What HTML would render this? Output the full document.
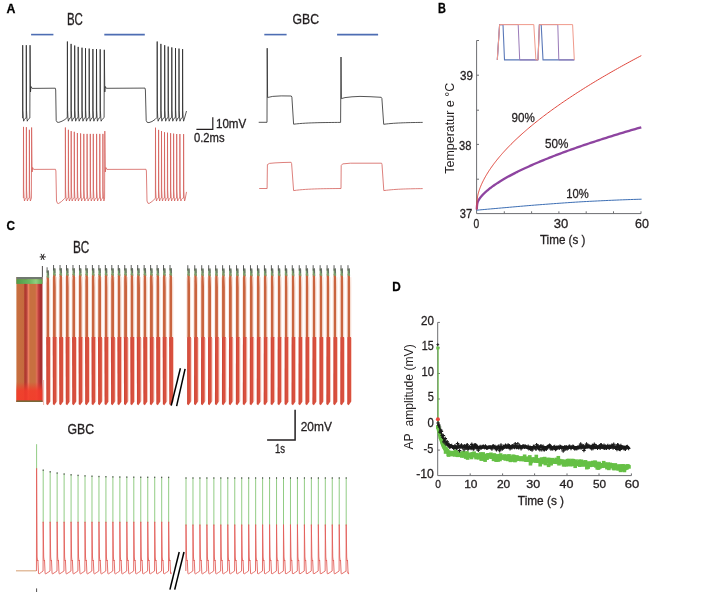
<!DOCTYPE html>
<html><head><meta charset="utf-8"><style>
html,body{margin:0;padding:0;background:#fff;width:708px;height:592px;overflow:hidden}
svg{display:block;will-change:transform}
text{font-family:"Liberation Sans",sans-serif}
</style></head><body>
<svg width="708" height="592" viewBox="0 0 708 592">
<rect width="708" height="592" fill="#fff"/>
<text x="6.45" y="12.65" font-size="13.07" font-weight="bold" fill="#000" stroke="#000" stroke-width="0.3" textLength="8.9" lengthAdjust="spacingAndGlyphs">A</text>
<text x="66.95" y="24.85" font-size="15.83" font-weight="normal" fill="#231f20" stroke="#231f20" stroke-width="0.3" textLength="16" lengthAdjust="spacingAndGlyphs">BC</text>
<text x="292.55" y="24.25" font-size="15.11" font-weight="normal" fill="#231f20" stroke="#231f20" stroke-width="0.3" textLength="26.5" lengthAdjust="spacingAndGlyphs">GBC</text>
<line x1="31.1" y1="34.6" x2="53.4" y2="34.6" stroke="#4d6db3" stroke-width="1.6"/>
<line x1="104.3" y1="34.6" x2="144.8" y2="34.6" stroke="#4d6db3" stroke-width="1.6"/>
<line x1="264.3" y1="34.6" x2="286.6" y2="34.6" stroke="#4d6db3" stroke-width="1.6"/>
<line x1="337.1" y1="34.6" x2="378.1" y2="34.6" stroke="#4d6db3" stroke-width="1.6"/>
<path d="M22.2,118 L22.58,118 L22.7,45.2 L22.9,110.2 L23.25,117.2 L23.65,121.2 L24.15,119.9 L25.17,118.4 L26.18,118 L26.3,45.2 L26.5,110.2 L26.85,117.2 L27.25,121.2 L27.75,119.9 L29.85,118 L30.05,45.2 L30.5,92 L31,86.5 L32.1,88.4 L55.3,88.2 L55.7,90 L56.2,120.5 L57.2,122.2 L58.8,122.4 L62,121.2 L65,119.5 L67,117.6 L67.28,117.6 L67.4,41.5 L67.6,110.2 L67.95,117.2 L68.35,121.2 L68.85,119.9 L69.91,118 L70.98,117.6 L71.1,43.9 L71.3,110.2 L71.65,117.2 L72.05,121.2 L72.55,119.9 L73.56,118 L74.58,117.6 L74.7,45.5 L74.9,110.2 L75.25,117.2 L75.65,121.2 L76.15,119.9 L77.12,118 L78.08,117.6 L78.2,46.9 L78.4,110.2 L78.75,117.2 L79.15,121.2 L79.65,119.9 L80.77,118 L81.88,117.6 L82,47.7 L82.2,110.2 L82.55,117.2 L82.95,121.2 L83.45,119.9 L84.41,118 L85.38,117.6 L85.5,48.2 L85.7,110.2 L86.05,117.2 L86.45,121.2 L86.95,119.9 L88.02,118 L89.08,117.6 L89.2,48.6 L89.4,110.2 L89.75,117.2 L90.15,121.2 L90.65,119.9 L91.72,118 L92.78,117.6 L92.9,49 L93.1,110.2 L93.45,117.2 L93.85,121.2 L94.35,119.9 L95.37,118 L96.38,117.6 L96.5,49 L96.7,110.2 L97.05,117.2 L97.45,121.2 L97.95,119.9 L99.02,118 L100.08,117.6 L100.2,49.3 L100.4,110.2 L100.75,117.2 L101.15,121.2 L101.65,119.9 L104.1,117.6 L104.3,49.8 L104.8,92 L105.3,86.5 L106.3,88.3 L145,88.1 L145.4,90 L146.2,120.5 L147.2,122.4 L149,122.6 L152,121.5 L155,119.5 L156.9,117.6 L157.08,117.6 L157.2,41.5 L157.4,110.2 L157.75,117.2 L158.15,121.2 L158.65,119.9 L159.71,118 L160.78,117.6 L160.9,43.9 L161.1,110.2 L161.45,117.2 L161.85,121.2 L162.35,119.9 L163.46,118 L164.58,117.6 L164.7,45.2 L164.9,110.2 L165.25,117.2 L165.65,121.2 L166.15,119.9 L167.11,118 L168.08,117.6 L168.2,46.6 L168.4,110.2 L168.75,117.2 L169.15,121.2 L169.65,119.9 L170.66,118 L171.68,117.6 L171.8,47.4 L172,110.2 L172.35,117.2 L172.75,121.2 L173.25,119.9 L174.31,118 L175.38,117.6 L175.5,48.1 L175.7,110.2 L176.05,117.2 L176.45,121.2 L176.95,119.9 L177.91,118 L178.88,117.6 L179,48.6 L179.2,110.2 L179.55,117.2 L179.95,121.2 L180.45,119.9 L181.46,118 L182.48,117.6 L182.6,49.1 L182.8,110.2 L183.15,117.2 L183.55,121.2 L184.05,119.9 L186.5,111" fill="none" stroke="#2a2a2a" stroke-width="0.8" stroke-linejoin="round" />
<path d="M23.1,198 L23.38,198 L23.5,126.9 L23.7,190 L24.05,197 L24.45,201 L24.95,199.7 L25.61,198.4 L26.28,198 L26.4,127.2 L26.6,190 L26.95,197 L27.35,201 L27.85,199.7 L28.57,198.4 L29.28,198 L29.4,129.8 L29.6,190 L29.95,197 L30.35,201 L30.85,199.7 L31.4,198 L31.6,127.5 L32.1,172 L32.6,167.5 L33.6,169.4 L55.5,169.3 L55.9,171 L56.5,201 L57.5,203.3 L58.6,203.5 L61.5,201.5 L64.6,198.5 L65.28,198 L65.4,127.5 L65.6,190 L65.95,197 L66.35,201 L66.85,199.7 L67.56,198.4 L68.28,198 L68.4,129.8 L68.6,190 L68.95,197 L69.35,201 L69.85,199.7 L70.47,198.4 L71.08,198 L71.2,131.1 L71.4,190 L71.75,197 L72.15,201 L72.65,199.7 L73.41,198.4 L74.18,198 L74.3,131.8 L74.5,190 L74.85,197 L75.25,201 L75.75,199.7 L76.52,198.4 L77.28,198 L77.4,133 L77.6,190 L77.95,197 L78.35,201 L78.85,199.7 L79.66,198.4 L80.48,198 L80.6,133.4 L80.8,190 L81.15,197 L81.55,201 L82.05,199.7 L82.86,198.4 L83.68,198 L83.8,133.9 L84,190 L84.35,197 L84.75,201 L85.25,199.7 L86.11,198.4 L86.98,198 L87.1,133.9 L87.3,190 L87.65,197 L88.05,201 L88.55,199.7 L89.36,198.4 L90.18,198 L90.3,133.9 L90.5,190 L90.85,197 L91.25,201 L91.75,199.7 L92.47,198.4 L93.18,198 L93.3,133.9 L93.5,190 L93.85,197 L94.25,201 L94.75,199.7 L95.61,198.4 L96.48,198 L96.6,133.9 L96.8,190 L97.15,197 L97.55,201 L98.05,199.7 L98.86,198.4 L99.68,198 L99.8,133.9 L100,190 L100.35,197 L100.75,201 L101.25,199.7 L102.02,198.4 L102.78,198 L102.9,133.9 L103.1,190 L103.45,197 L103.85,201 L104.35,199.7 L104.6,198 L104.8,131.1 L105.3,172 L105.9,167.5 L106.9,169.4 L146,169.3 L146.4,171 L147,201 L148,203.3 L149.2,203.4 L152,201.5 L155.2,198.5 L155.38,198 L155.5,127.7 L155.7,190 L156.05,197 L156.45,201 L156.95,199.7 L157.71,198.4 L158.48,198 L158.6,129.9 L158.8,190 L159.15,197 L159.55,201 L160.05,199.7 L160.71,198.4 L161.38,198 L161.5,131 L161.7,190 L162.05,197 L162.45,201 L162.95,199.7 L163.66,198.4 L164.38,198 L164.5,132.2 L164.7,190 L165.05,197 L165.45,201 L165.95,199.7 L166.66,198.4 L167.38,198 L167.5,132.7 L167.7,190 L168.05,197 L168.45,201 L168.95,199.7 L169.71,198.4 L170.48,198 L170.6,133.2 L170.8,190 L171.15,197 L171.55,201 L172.05,199.7 L172.76,198.4 L173.48,198 L173.6,133.6 L173.8,190 L174.15,197 L174.55,201 L175.05,199.7 L175.81,198.4 L176.58,198 L176.7,134 L176.9,190 L177.25,197 L177.65,201 L178.15,199.7 L178.96,198.4 L179.78,198 L179.9,134 L180.1,190 L180.45,197 L180.85,201 L181.35,199.7 L182.41,198.4 L183.48,198 L183.6,134.1 L183.8,190 L184.15,197 L184.55,201 L185.05,199.7 L186.5,191.9" fill="none" stroke="#d4605a" stroke-width="0.8" stroke-linejoin="round" />
<path d="M196.4,129.4 L212.8,129.4 L212.8,117.3" fill="none" stroke="#231f20" stroke-width="1.2"/>
<text x="215.95" y="127.75" font-size="11.91" font-weight="normal" fill="#231f20" stroke="#231f20" stroke-width="0.3" textLength="30.3" lengthAdjust="spacingAndGlyphs">10mV</text>
<text x="193.95" y="142.35" font-size="12.2" font-weight="normal" fill="#231f20" stroke="#231f20" stroke-width="0.3" textLength="30.6" lengthAdjust="spacingAndGlyphs">0.2ms</text>
<path d="M258.7,122.3 L267,122.3 L267.2,48.2 L267.6,97.5 L272.7,96.4 L281.2,95.9 L291.3,96 L291.9,97.2 L293.6,124.2 L296.54,123.87 L299.48,123.59 L302.41,123.36 L305.35,123.18 L308.29,123.02 L311.23,122.9 L314.16,122.8 L317.1,122.71 L320.04,122.64 L322.98,122.58 L325.91,122.54 L328.85,122.5 L331.79,122.47 L334.73,122.44 L337.66,122.42 L340.6,122.4 L341,57 L341.4,98.6 L345,97.6 L352,96.8 L360,96.4 L370,96.7 L381.2,97.3 L381.9,98.5 L383.7,124.3 L386.14,123.99 L388.57,123.73 L391.01,123.51 L393.45,123.32 L395.89,123.16 L398.32,123.02 L400.76,122.91 L403.2,122.81 L405.64,122.72 L408.07,122.65 L410.51,122.59 L412.95,122.54 L415.39,122.5 L417.82,122.46 L420.26,122.43 L422.7,122.4" fill="none" stroke="#2a2a2a" stroke-width="0.8" stroke-linejoin="round" />
<path d="M259.2,188.5 L267.1,188.5 L267.4,164.6 L269.5,163.4 L275,162.9 L283,162.5 L291.1,162.3 L291.6,163.5 L293.6,190.6 L296.56,190.21 L299.53,189.88 L302.49,189.62 L305.45,189.4 L308.41,189.22 L311.38,189.08 L314.34,188.96 L317.3,188.86 L320.26,188.78 L323.23,188.71 L326.19,188.66 L329.15,188.61 L332.11,188.58 L335.07,188.55 L338.04,188.52 L341,188.5 L341.2,165.6 L342.6,163.9 L350.3,163.2 L381.6,163.2 L382,164.5 L383.8,190.6 L386.32,190.28 L388.75,190 L391.17,189.77 L393.6,189.57 L396.02,189.4 L398.45,189.26 L400.88,189.13 L403.3,189.03 L405.72,188.94 L408.15,188.87 L410.57,188.8 L413,188.75 L415.43,188.7 L417.85,188.66 L420.27,188.63 L422.7,188.6" fill="none" stroke="#d4605a" stroke-width="0.8" stroke-linejoin="round" />
<text x="438.05" y="12.75" font-size="14.09" font-weight="bold" fill="#000" stroke="#000" stroke-width="0.3" textLength="7.9" lengthAdjust="spacingAndGlyphs">B</text>
<path d="M479,40.5 L476.6,40.5 L476.6,213.6 L641,213.6 L641,211.3" fill="none" stroke="#6d6e71" stroke-width="1"/>
<line x1="476.6" y1="75.2" x2="479" y2="75.2" stroke="#6d6e71" stroke-width="1"/>
<line x1="476.6" y1="110.2" x2="479" y2="110.2" stroke="#6d6e71" stroke-width="1"/>
<line x1="476.6" y1="144.4" x2="479" y2="144.4" stroke="#6d6e71" stroke-width="1"/>
<line x1="476.6" y1="179.2" x2="479" y2="179.2" stroke="#6d6e71" stroke-width="1"/>
<line x1="504.3" y1="213.5" x2="504.3" y2="211.3" stroke="#6d6e71" stroke-width="1"/>
<line x1="531.6" y1="213.5" x2="531.6" y2="211.3" stroke="#6d6e71" stroke-width="1"/>
<line x1="558.9" y1="213.5" x2="558.9" y2="211.3" stroke="#6d6e71" stroke-width="1"/>
<line x1="586.2" y1="213.5" x2="586.2" y2="211.3" stroke="#6d6e71" stroke-width="1"/>
<line x1="613.5" y1="213.5" x2="613.5" y2="211.3" stroke="#6d6e71" stroke-width="1"/>
<text x="459.95" y="80.45" font-size="12.93" font-weight="normal" fill="#231f20" stroke="#231f20" stroke-width="0.3" textLength="12.9" lengthAdjust="spacingAndGlyphs">39</text>
<text x="458.95" y="149.65" font-size="13.36" font-weight="normal" fill="#231f20" stroke="#231f20" stroke-width="0.3" textLength="12.4" lengthAdjust="spacingAndGlyphs">38</text>
<text x="459.85" y="217.75" font-size="12.64" font-weight="normal" fill="#231f20" stroke="#231f20" stroke-width="0.3" textLength="12.4" lengthAdjust="spacingAndGlyphs">37</text>
<text x="473.55" y="227.65" font-size="12.35" font-weight="normal" fill="#231f20" stroke="#231f20" stroke-width="0.3" textLength="5.7" lengthAdjust="spacingAndGlyphs">0</text>
<text x="553.65" y="227.95" font-size="12.93" font-weight="normal" fill="#231f20" stroke="#231f20" stroke-width="0.3" textLength="14.5" lengthAdjust="spacingAndGlyphs">30</text>
<text x="634.95" y="227.95" font-size="12.93" font-weight="normal" fill="#231f20" stroke="#231f20" stroke-width="0.3" textLength="13.9" lengthAdjust="spacingAndGlyphs">60</text>
<text x="539.95" y="244.05" font-size="12.3" font-weight="normal" fill="#231f20" stroke="#231f20" stroke-width="0.3" textLength="45.5" lengthAdjust="spacingAndGlyphs">Time (s )</text>
<text transform="translate(453.6,173.7) rotate(-90)" x="0" y="0" font-size="12.8" fill="#231f20" textLength="90.9" lengthAdjust="spacingAndGlyphs">Temperatur e °C</text>
<text x="511.55" y="121.75" font-size="13.22" font-weight="normal" fill="#231f20" stroke="#231f20" stroke-width="0.3" textLength="23.3" lengthAdjust="spacingAndGlyphs">90%</text>
<text x="544.95" y="147.85" font-size="13.07" font-weight="normal" fill="#231f20" stroke="#231f20" stroke-width="0.3" textLength="23.4" lengthAdjust="spacingAndGlyphs">50%</text>
<text x="566.35" y="197.95" font-size="12.64" font-weight="normal" fill="#231f20" stroke="#231f20" stroke-width="0.3" textLength="22.5" lengthAdjust="spacingAndGlyphs">10%</text>
<path d="M476.6,210.2 L479.35,209.95 L482.1,209.7 L484.85,209.45 L487.6,209.2 L490.35,208.95 L493.1,208.71 L495.85,208.47 L498.6,208.22 L501.35,207.98 L504.1,207.74 L506.85,207.5 L509.6,207.25 L512.35,207.01 L515.1,206.77 L517.85,206.53 L520.6,206.29 L523.35,206.05 L526.1,205.82 L528.85,205.59 L531.6,205.36 L534.35,205.14 L537.1,204.92 L539.85,204.71 L542.6,204.5 L545.35,204.3 L548.1,204.09 L550.85,203.88 L553.6,203.68 L556.35,203.48 L559.1,203.28 L561.85,203.08 L564.6,202.89 L567.35,202.7 L570.1,202.51 L572.85,202.33 L575.6,202.15 L578.35,201.98 L581.1,201.81 L583.85,201.65 L586.6,201.5 L589.35,201.35 L592.1,201.21 L594.85,201.08 L597.6,200.94 L600.35,200.81 L603.1,200.68 L605.85,200.55 L608.6,200.42 L611.35,200.3 L614.1,200.18 L616.85,200.07 L619.6,199.95 L622.35,199.84 L625.1,199.74 L627.85,199.64 L630.6,199.54 L633.35,199.45 L636.1,199.36 L638.85,199.28 L641.6,199.2" fill="none" stroke="#3c6eb4" stroke-width="1.0" stroke-linejoin="round" />
<path d="M476.8,209.5 L476.81,209.24 L476.83,208.75 L476.86,208.08 L476.9,207.31 L476.96,206.48 L477.03,205.66 L477.11,204.87 L477.21,204.15 L477.32,203.51 L477.44,202.95 L477.58,202.44 L477.73,201.99 L477.89,201.58 L478.06,201.18 L478.25,200.81 L478.44,200.43 L478.66,200.06 L478.88,199.69 L479.12,199.32 L479.37,198.94 L479.63,198.56 L479.91,198.17 L480.2,197.78 L480.5,197.39 L480.82,196.99 L481.14,196.59 L481.48,196.19 L481.84,195.79 L482.2,195.38 L482.58,194.97 L482.98,194.55 L483.38,194.13 L483.8,193.71 L484.23,193.29 L484.67,192.86 L485.13,192.44 L485.6,192 L486.08,191.57 L486.57,191.13 L487.08,190.7 L487.6,190.26 L488.14,189.81 L488.68,189.37 L489.24,188.92 L489.81,188.47 L490.4,188.02 L490.99,187.56 L491.61,187.11 L492.23,186.65 L492.86,186.19 L493.51,185.73 L494.18,185.27 L494.85,184.8 L495.54,184.33 L496.24,183.86 L496.95,183.39 L497.68,182.92 L498.42,182.44 L499.17,181.97 L499.93,181.49 L500.71,181.01 L501.5,180.53 L502.3,180.04 L503.12,179.56 L503.95,179.07 L504.79,178.58 L505.65,178.09 L506.51,177.6 L507.39,177.11 L508.29,176.61 L509.19,176.12 L510.11,175.62 L511.04,175.12 L511.99,174.62 L512.95,174.12 L513.92,173.61 L514.9,173.11 L515.89,172.6 L516.9,172.1 L517.92,171.59 L518.96,171.08 L520.01,170.57 L521.07,170.05 L522.14,169.54 L523.23,169.02 L524.33,168.51 L525.44,167.99 L526.56,167.47 L527.7,166.95 L528.85,166.42 L530.01,165.9 L531.19,165.38 L532.38,164.85 L533.58,164.32 L534.79,163.8 L536.02,163.27 L537.26,162.74 L538.51,162.21 L539.78,161.67 L541.06,161.14 L542.35,160.6 L543.65,160.07 L544.97,159.53 L546.3,158.99 L547.64,158.45 L549,157.91 L550.37,157.37 L551.75,156.83 L553.14,156.28 L554.55,155.74 L555.97,155.19 L557.4,154.64 L558.85,154.1 L560.31,153.55 L561.78,153 L563.27,152.45 L564.76,151.89 L566.27,151.34 L567.8,150.79 L569.33,150.23 L570.88,149.67 L572.44,149.12 L574.02,148.56 L575.6,148 L577.2,147.44 L578.82,146.88 L580.44,146.32 L582.08,145.75 L583.73,145.19 L585.4,144.63 L587.07,144.06 L588.76,143.49 L590.47,142.93 L592.18,142.36 L593.91,141.79 L595.65,141.22 L597.41,140.65 L599.17,140.07 L600.95,139.5 L602.75,138.93 L604.55,138.35 L606.37,137.78 L608.2,137.2 L610.05,136.62 L611.9,136.04 L613.77,135.47 L615.65,134.89 L617.55,134.3 L619.46,133.72 L621.38,133.14 L623.31,132.56 L625.26,131.97 L627.22,131.39 L629.19,130.8 L631.18,130.22 L633.18,129.63 L635.19,129.04 L637.21,128.45 L639.25,127.86 L641.3,127.27" fill="none" stroke="#8e44a0" stroke-width="2.3" stroke-linejoin="round" />
<path d="M476.8,209.5 L476.81,208.92 L476.83,207.83 L476.86,206.42 L476.9,204.82 L476.96,203.19 L477.03,201.65 L477.11,200.27 L477.21,199.07 L477.32,198.04 L477.44,197.14 L477.58,196.32 L477.73,195.57 L477.89,194.84 L478.06,194.13 L478.25,193.42 L478.44,192.7 L478.66,191.98 L478.88,191.26 L479.12,190.52 L479.37,189.78 L479.63,189.04 L479.91,188.28 L480.2,187.52 L480.5,186.76 L480.82,185.99 L481.14,185.21 L481.48,184.43 L481.84,183.64 L482.2,182.85 L482.58,182.05 L482.98,181.25 L483.38,180.44 L483.8,179.63 L484.23,178.81 L484.67,177.99 L485.13,177.17 L485.6,176.34 L486.08,175.51 L486.57,174.67 L487.08,173.83 L487.6,172.98 L488.14,172.13 L488.68,171.28 L489.24,170.43 L489.81,169.57 L490.4,168.71 L490.99,167.84 L491.61,166.97 L492.23,166.1 L492.86,165.22 L493.51,164.34 L494.18,163.46 L494.85,162.57 L495.54,161.69 L496.24,160.79 L496.95,159.9 L497.68,159 L498.42,158.1 L499.17,157.2 L499.93,156.29 L500.71,155.39 L501.5,154.47 L502.3,153.56 L503.12,152.64 L503.95,151.73 L504.79,150.8 L505.65,149.88 L506.51,148.95 L507.39,148.02 L508.29,147.09 L509.19,146.16 L510.11,145.22 L511.04,144.28 L511.99,143.34 L512.95,142.4 L513.92,141.45 L514.9,140.51 L515.89,139.56 L516.9,138.6 L517.92,137.65 L518.96,136.69 L520.01,135.73 L521.07,134.77 L522.14,133.81 L523.23,132.84 L524.33,131.88 L525.44,130.91 L526.56,129.94 L527.7,128.96 L528.85,127.99 L530.01,127.01 L531.19,126.03 L532.38,125.05 L533.58,124.07 L534.79,123.08 L536.02,122.1 L537.26,121.11 L538.51,120.12 L539.78,119.13 L541.06,118.13 L542.35,117.14 L543.65,116.14 L544.97,115.14 L546.3,114.14 L547.64,113.13 L549,112.13 L550.37,111.12 L551.75,110.11 L553.14,109.1 L554.55,108.09 L555.97,107.08 L557.4,106.07 L558.85,105.05 L560.31,104.03 L561.78,103.01 L563.27,101.99 L564.76,100.97 L566.27,99.94 L567.8,98.92 L569.33,97.89 L570.88,96.86 L572.44,95.83 L574.02,94.8 L575.6,93.76 L577.2,92.73 L578.82,91.69 L580.44,90.65 L582.08,89.61 L583.73,88.57 L585.4,87.53 L587.07,86.49 L588.76,85.44 L590.47,84.39 L592.18,83.34 L593.91,82.29 L595.65,81.24 L597.41,80.19 L599.17,79.14 L600.95,78.08 L602.75,77.02 L604.55,75.97 L606.37,74.91 L608.2,73.85 L610.05,72.78 L611.9,71.72 L613.77,70.65 L615.65,69.59 L617.55,68.52 L619.46,67.45 L621.38,66.38 L623.31,65.31 L625.26,64.24 L627.22,63.16 L629.19,62.09 L631.18,61.01 L633.18,59.93 L635.19,58.85 L637.21,57.77 L639.25,56.69 L641.3,55.61" fill="none" stroke="#e0463c" stroke-width="1.0" stroke-linejoin="round" />
<path d="M497.3,59.9 L499.6,24.6 L503,24.6 L504.5,59.9 L538,59.9 L539.4,24.6 L541.2,24.6 L543,59.9 L574.3,59.9" fill="none" stroke="#5a78b8" stroke-width="1.1" stroke-linejoin="round" />
<path d="M497.3,59.9 L499.6,24.6 L518.2,24.6 L519.7,59.9 L538,59.9 L539.4,24.6 L557.8,24.6 L558.8,59.9 L574.3,59.9" fill="none" stroke="#9a7ab8" stroke-width="1.0" stroke-linejoin="round" />
<path d="M497.3,59.9 L499.6,24.6 L533.8,24.6 L535.9,59.9 L538,59.9 L539.4,24.6 L572.6,24.6 L574.3,59.9" fill="none" stroke="#f09a8c" stroke-width="1.0" stroke-linejoin="round" />
<text x="6.55" y="230.45" font-size="12.78" font-weight="bold" fill="#000" stroke="#000" stroke-width="0.3" textLength="8.5" lengthAdjust="spacingAndGlyphs">C</text>
<text x="72.95" y="253.45" font-size="15.98" font-weight="normal" fill="#231f20" stroke="#231f20" stroke-width="0.3" textLength="16.4" lengthAdjust="spacingAndGlyphs">BC</text>
<text x="67.45" y="434.25" font-size="15.4" font-weight="normal" fill="#231f20" stroke="#231f20" stroke-width="0.3" textLength="26.6" lengthAdjust="spacingAndGlyphs">GBC</text>
<path d="M40.1,256.9 L45.5,256.9 M41.2,254.2 L44.0,259.6 M44.0,254.2 L41.2,259.6" stroke="#231f20" stroke-width="1.0" stroke-linecap="round"/>
<defs><linearGradient id="blk" x1="0" x2="1" y1="0" y2="0">
<stop offset="0" stop-color="#c87040"/><stop offset="0.28" stop-color="#c46a3e"/><stop offset="0.32" stop-color="#b03a30"/>
<stop offset="0.37" stop-color="#b03a30"/><stop offset="0.41" stop-color="#c05048"/><stop offset="0.46" stop-color="#ee8060"/>
<stop offset="0.52" stop-color="#c87040"/><stop offset="0.72" stop-color="#c87040"/><stop offset="0.78" stop-color="#e07058"/>
<stop offset="0.85" stop-color="#c04040"/><stop offset="0.92" stop-color="#a83030"/><stop offset="1" stop-color="#a83030"/></linearGradient>
<linearGradient id="blkv" x1="0" x2="0" y1="0" y2="1">
<stop offset="0" stop-color="#f53a2a" stop-opacity="0"/><stop offset="0.84" stop-color="#f53a2a" stop-opacity="0"/>
<stop offset="0.91" stop-color="#f53a2a" stop-opacity="0.85"/><stop offset="1" stop-color="#f53a2a" stop-opacity="0.9"/></linearGradient>
<linearGradient id="grn" x1="0" x2="1" y1="0" y2="0">
<stop offset="0" stop-color="#4f9a48"/><stop offset="0.5" stop-color="#6ab860"/><stop offset="0.75" stop-color="#90d080"/><stop offset="1" stop-color="#5aa850"/></linearGradient></defs>
<rect x="16.4" y="277" width="26.1" height="125" fill="url(#blk)"/>
<rect x="16.4" y="277" width="26.1" height="125" fill="url(#blkv)"/>
<rect x="16.4" y="277" width="26.1" height="2.3" fill="#707870"/>
<rect x="16.4" y="279.2" width="26.1" height="4.7" fill="url(#grn)"/>
<rect x="16.4" y="400.4" width="26.1" height="1.6" fill="#786838"/>
<line x1="43.6" y1="380" x2="43.6" y2="405" stroke="#f0a090" stroke-width="0.8"/>
<line x1="42.4" y1="266" x2="42.4" y2="277" stroke="#231f20" stroke-width="0.8"/>
<path d="M46.7,276.3 L49,276.3 L49.4,289.3 L49.4,337.6 L46.2,337.6 L46.2,283.3 Z" fill="#c9643f"/>
<rect x="49.4" y="279.3" width="1.0" height="58.3" fill="#f9e0d6"/>
<rect x="45.6" y="279.3" width="0.9" height="58.3" fill="#fbe6de"/>
<path d="M46.2,337 L50.2,337 L50.2,401.8 L47.8,405.3 L46.4,404.2 Z" fill="#d9503e"/>
<rect x="46.5" y="338" width="0.9" height="66" fill="#b83a30" opacity="0.4"/>
<path d="M50.2,338 L50.9,338 L50.9,401 L50.2,402 Z" fill="#f6c0b2"/>
<path d="M46.7,270.3 L49,271.3 L49.2,278.3 L46.6,277.3 Z" fill="#7a9e6a"/>
<line x1="47.1" y1="267.3" x2="47.1" y2="272.8" stroke="#4a4a4a" stroke-width="0.9"/>
<line x1="48.4" y1="270.3" x2="48.4" y2="275.3" stroke="#666" stroke-width="0.9"/>
<path d="M53.17,274 L55.47,274 L55.87,287 L55.87,337.6 L52.67,337.6 L52.67,281 Z" fill="#c9643f"/>
<rect x="55.87" y="277" width="1.0" height="60.6" fill="#f9e0d6"/>
<rect x="52.07" y="277" width="0.9" height="60.6" fill="#fbe6de"/>
<path d="M52.67,337 L56.67,337 L56.67,401.8 L54.27,405.3 L52.87,404.2 Z" fill="#d9503e"/>
<rect x="52.97" y="338" width="0.9" height="66" fill="#b83a30" opacity="0.4"/>
<path d="M56.67,338 L57.37,338 L57.37,401 L56.67,402 Z" fill="#f6c0b2"/>
<path d="M53.17,268 L55.47,269 L55.67,276 L53.07,275 Z" fill="#7a9e6a"/>
<line x1="53.57" y1="265" x2="53.57" y2="270.5" stroke="#4a4a4a" stroke-width="0.9"/>
<line x1="54.87" y1="268" x2="54.87" y2="273" stroke="#666" stroke-width="0.9"/>
<path d="M59.64,274 L61.94,274 L62.34,287 L62.34,337.6 L59.14,337.6 L59.14,281 Z" fill="#c9643f"/>
<rect x="62.34" y="277" width="1.0" height="60.6" fill="#f9e0d6"/>
<rect x="58.54" y="277" width="0.9" height="60.6" fill="#fbe6de"/>
<path d="M59.14,337 L63.14,337 L63.14,401.8 L60.74,405.3 L59.34,404.2 Z" fill="#d9503e"/>
<rect x="59.44" y="338" width="0.9" height="66" fill="#b83a30" opacity="0.4"/>
<path d="M63.14,338 L63.84,338 L63.84,401 L63.14,402 Z" fill="#f6c0b2"/>
<path d="M59.64,268 L61.94,269 L62.14,276 L59.54,275 Z" fill="#7a9e6a"/>
<line x1="60.04" y1="265" x2="60.04" y2="270.5" stroke="#4a4a4a" stroke-width="0.9"/>
<line x1="61.34" y1="268" x2="61.34" y2="273" stroke="#666" stroke-width="0.9"/>
<path d="M66.11,274 L68.41,274 L68.81,287 L68.81,337.6 L65.61,337.6 L65.61,281 Z" fill="#c9643f"/>
<rect x="68.81" y="277" width="1.0" height="60.6" fill="#f9e0d6"/>
<rect x="65.01" y="277" width="0.9" height="60.6" fill="#fbe6de"/>
<path d="M65.61,337 L69.61,337 L69.61,401.8 L67.21,405.3 L65.81,404.2 Z" fill="#d9503e"/>
<rect x="65.91" y="338" width="0.9" height="66" fill="#b83a30" opacity="0.4"/>
<path d="M69.61,338 L70.31,338 L70.31,401 L69.61,402 Z" fill="#f6c0b2"/>
<path d="M66.11,268 L68.41,269 L68.61,276 L66.01,275 Z" fill="#7a9e6a"/>
<line x1="66.51" y1="265" x2="66.51" y2="270.5" stroke="#4a4a4a" stroke-width="0.9"/>
<line x1="67.81" y1="268" x2="67.81" y2="273" stroke="#666" stroke-width="0.9"/>
<path d="M72.58,274 L74.88,274 L75.28,287 L75.28,337.6 L72.08,337.6 L72.08,281 Z" fill="#c9643f"/>
<rect x="75.28" y="277" width="1.0" height="60.6" fill="#f9e0d6"/>
<rect x="71.48" y="277" width="0.9" height="60.6" fill="#fbe6de"/>
<path d="M72.08,337 L76.08,337 L76.08,401.8 L73.68,405.3 L72.28,404.2 Z" fill="#d9503e"/>
<rect x="72.38" y="338" width="0.9" height="66" fill="#b83a30" opacity="0.4"/>
<path d="M76.08,338 L76.78,338 L76.78,401 L76.08,402 Z" fill="#f6c0b2"/>
<path d="M72.58,268 L74.88,269 L75.08,276 L72.48,275 Z" fill="#7a9e6a"/>
<line x1="72.98" y1="265" x2="72.98" y2="270.5" stroke="#4a4a4a" stroke-width="0.9"/>
<line x1="74.28" y1="268" x2="74.28" y2="273" stroke="#666" stroke-width="0.9"/>
<path d="M79.05,274 L81.35,274 L81.75,287 L81.75,337.6 L78.55,337.6 L78.55,281 Z" fill="#c9643f"/>
<rect x="81.75" y="277" width="1.0" height="60.6" fill="#f9e0d6"/>
<rect x="77.95" y="277" width="0.9" height="60.6" fill="#fbe6de"/>
<path d="M78.55,337 L82.55,337 L82.55,401.8 L80.15,405.3 L78.75,404.2 Z" fill="#d9503e"/>
<rect x="78.85" y="338" width="0.9" height="66" fill="#b83a30" opacity="0.4"/>
<path d="M82.55,338 L83.25,338 L83.25,401 L82.55,402 Z" fill="#f6c0b2"/>
<path d="M79.05,268 L81.35,269 L81.55,276 L78.95,275 Z" fill="#7a9e6a"/>
<line x1="79.45" y1="265" x2="79.45" y2="270.5" stroke="#4a4a4a" stroke-width="0.9"/>
<line x1="80.75" y1="268" x2="80.75" y2="273" stroke="#666" stroke-width="0.9"/>
<path d="M85.52,274 L87.82,274 L88.22,287 L88.22,337.6 L85.02,337.6 L85.02,281 Z" fill="#c9643f"/>
<rect x="88.22" y="277" width="1.0" height="60.6" fill="#f9e0d6"/>
<rect x="84.42" y="277" width="0.9" height="60.6" fill="#fbe6de"/>
<path d="M85.02,337 L89.02,337 L89.02,401.8 L86.62,405.3 L85.22,404.2 Z" fill="#d9503e"/>
<rect x="85.32" y="338" width="0.9" height="66" fill="#b83a30" opacity="0.4"/>
<path d="M89.02,338 L89.72,338 L89.72,401 L89.02,402 Z" fill="#f6c0b2"/>
<path d="M85.52,268 L87.82,269 L88.02,276 L85.42,275 Z" fill="#7a9e6a"/>
<line x1="85.92" y1="265" x2="85.92" y2="270.5" stroke="#4a4a4a" stroke-width="0.9"/>
<line x1="87.22" y1="268" x2="87.22" y2="273" stroke="#666" stroke-width="0.9"/>
<path d="M91.99,274 L94.29,274 L94.69,287 L94.69,337.6 L91.49,337.6 L91.49,281 Z" fill="#c9643f"/>
<rect x="94.69" y="277" width="1.0" height="60.6" fill="#f9e0d6"/>
<rect x="90.89" y="277" width="0.9" height="60.6" fill="#fbe6de"/>
<path d="M91.49,337 L95.49,337 L95.49,401.8 L93.09,405.3 L91.69,404.2 Z" fill="#d9503e"/>
<rect x="91.79" y="338" width="0.9" height="66" fill="#b83a30" opacity="0.4"/>
<path d="M95.49,338 L96.19,338 L96.19,401 L95.49,402 Z" fill="#f6c0b2"/>
<path d="M91.99,268 L94.29,269 L94.49,276 L91.89,275 Z" fill="#7a9e6a"/>
<line x1="92.39" y1="265" x2="92.39" y2="270.5" stroke="#4a4a4a" stroke-width="0.9"/>
<line x1="93.69" y1="268" x2="93.69" y2="273" stroke="#666" stroke-width="0.9"/>
<path d="M98.46,274 L100.76,274 L101.16,287 L101.16,337.6 L97.96,337.6 L97.96,281 Z" fill="#c9643f"/>
<rect x="101.16" y="277" width="1.0" height="60.6" fill="#f9e0d6"/>
<rect x="97.36" y="277" width="0.9" height="60.6" fill="#fbe6de"/>
<path d="M97.96,337 L101.96,337 L101.96,401.8 L99.56,405.3 L98.16,404.2 Z" fill="#d9503e"/>
<rect x="98.26" y="338" width="0.9" height="66" fill="#b83a30" opacity="0.4"/>
<path d="M101.96,338 L102.66,338 L102.66,401 L101.96,402 Z" fill="#f6c0b2"/>
<path d="M98.46,268 L100.76,269 L100.96,276 L98.36,275 Z" fill="#7a9e6a"/>
<line x1="98.86" y1="265" x2="98.86" y2="270.5" stroke="#4a4a4a" stroke-width="0.9"/>
<line x1="100.16" y1="268" x2="100.16" y2="273" stroke="#666" stroke-width="0.9"/>
<path d="M104.93,274 L107.23,274 L107.63,287 L107.63,337.6 L104.43,337.6 L104.43,281 Z" fill="#c9643f"/>
<rect x="107.63" y="277" width="1.0" height="60.6" fill="#f9e0d6"/>
<rect x="103.83" y="277" width="0.9" height="60.6" fill="#fbe6de"/>
<path d="M104.43,337 L108.43,337 L108.43,401.8 L106.03,405.3 L104.63,404.2 Z" fill="#d9503e"/>
<rect x="104.73" y="338" width="0.9" height="66" fill="#b83a30" opacity="0.4"/>
<path d="M108.43,338 L109.13,338 L109.13,401 L108.43,402 Z" fill="#f6c0b2"/>
<path d="M104.93,268 L107.23,269 L107.43,276 L104.83,275 Z" fill="#7a9e6a"/>
<line x1="105.33" y1="265" x2="105.33" y2="270.5" stroke="#4a4a4a" stroke-width="0.9"/>
<line x1="106.63" y1="268" x2="106.63" y2="273" stroke="#666" stroke-width="0.9"/>
<path d="M111.4,274 L113.7,274 L114.1,287 L114.1,337.6 L110.9,337.6 L110.9,281 Z" fill="#c9643f"/>
<rect x="114.1" y="277" width="1.0" height="60.6" fill="#f9e0d6"/>
<rect x="110.3" y="277" width="0.9" height="60.6" fill="#fbe6de"/>
<path d="M110.9,337 L114.9,337 L114.9,401.8 L112.5,405.3 L111.1,404.2 Z" fill="#d9503e"/>
<rect x="111.2" y="338" width="0.9" height="66" fill="#b83a30" opacity="0.4"/>
<path d="M114.9,338 L115.6,338 L115.6,401 L114.9,402 Z" fill="#f6c0b2"/>
<path d="M111.4,268 L113.7,269 L113.9,276 L111.3,275 Z" fill="#7a9e6a"/>
<line x1="111.8" y1="265" x2="111.8" y2="270.5" stroke="#4a4a4a" stroke-width="0.9"/>
<line x1="113.1" y1="268" x2="113.1" y2="273" stroke="#666" stroke-width="0.9"/>
<path d="M117.87,274 L120.17,274 L120.57,287 L120.57,337.6 L117.37,337.6 L117.37,281 Z" fill="#c9643f"/>
<rect x="120.57" y="277" width="1.0" height="60.6" fill="#f9e0d6"/>
<rect x="116.77" y="277" width="0.9" height="60.6" fill="#fbe6de"/>
<path d="M117.37,337 L121.37,337 L121.37,401.8 L118.97,405.3 L117.57,404.2 Z" fill="#d9503e"/>
<rect x="117.67" y="338" width="0.9" height="66" fill="#b83a30" opacity="0.4"/>
<path d="M121.37,338 L122.07,338 L122.07,401 L121.37,402 Z" fill="#f6c0b2"/>
<path d="M117.87,268 L120.17,269 L120.37,276 L117.77,275 Z" fill="#7a9e6a"/>
<line x1="118.27" y1="265" x2="118.27" y2="270.5" stroke="#4a4a4a" stroke-width="0.9"/>
<line x1="119.57" y1="268" x2="119.57" y2="273" stroke="#666" stroke-width="0.9"/>
<path d="M124.34,274 L126.64,274 L127.04,287 L127.04,337.6 L123.84,337.6 L123.84,281 Z" fill="#c9643f"/>
<rect x="127.04" y="277" width="1.0" height="60.6" fill="#f9e0d6"/>
<rect x="123.24" y="277" width="0.9" height="60.6" fill="#fbe6de"/>
<path d="M123.84,337 L127.84,337 L127.84,401.8 L125.44,405.3 L124.04,404.2 Z" fill="#d9503e"/>
<rect x="124.14" y="338" width="0.9" height="66" fill="#b83a30" opacity="0.4"/>
<path d="M127.84,338 L128.54,338 L128.54,401 L127.84,402 Z" fill="#f6c0b2"/>
<path d="M124.34,268 L126.64,269 L126.84,276 L124.24,275 Z" fill="#7a9e6a"/>
<line x1="124.74" y1="265" x2="124.74" y2="270.5" stroke="#4a4a4a" stroke-width="0.9"/>
<line x1="126.04" y1="268" x2="126.04" y2="273" stroke="#666" stroke-width="0.9"/>
<path d="M130.81,274 L133.11,274 L133.51,287 L133.51,337.6 L130.31,337.6 L130.31,281 Z" fill="#c9643f"/>
<rect x="133.51" y="277" width="1.0" height="60.6" fill="#f9e0d6"/>
<rect x="129.71" y="277" width="0.9" height="60.6" fill="#fbe6de"/>
<path d="M130.31,337 L134.31,337 L134.31,401.8 L131.91,405.3 L130.51,404.2 Z" fill="#d9503e"/>
<rect x="130.61" y="338" width="0.9" height="66" fill="#b83a30" opacity="0.4"/>
<path d="M134.31,338 L135.01,338 L135.01,401 L134.31,402 Z" fill="#f6c0b2"/>
<path d="M130.81,268 L133.11,269 L133.31,276 L130.71,275 Z" fill="#7a9e6a"/>
<line x1="131.21" y1="265" x2="131.21" y2="270.5" stroke="#4a4a4a" stroke-width="0.9"/>
<line x1="132.51" y1="268" x2="132.51" y2="273" stroke="#666" stroke-width="0.9"/>
<path d="M137.28,274 L139.58,274 L139.98,287 L139.98,337.6 L136.78,337.6 L136.78,281 Z" fill="#c9643f"/>
<rect x="139.98" y="277" width="1.0" height="60.6" fill="#f9e0d6"/>
<rect x="136.18" y="277" width="0.9" height="60.6" fill="#fbe6de"/>
<path d="M136.78,337 L140.78,337 L140.78,401.8 L138.38,405.3 L136.98,404.2 Z" fill="#d9503e"/>
<rect x="137.08" y="338" width="0.9" height="66" fill="#b83a30" opacity="0.4"/>
<path d="M140.78,338 L141.48,338 L141.48,401 L140.78,402 Z" fill="#f6c0b2"/>
<path d="M137.28,268 L139.58,269 L139.78,276 L137.18,275 Z" fill="#7a9e6a"/>
<line x1="137.68" y1="265" x2="137.68" y2="270.5" stroke="#4a4a4a" stroke-width="0.9"/>
<line x1="138.98" y1="268" x2="138.98" y2="273" stroke="#666" stroke-width="0.9"/>
<path d="M143.75,274 L146.05,274 L146.45,287 L146.45,337.6 L143.25,337.6 L143.25,281 Z" fill="#c9643f"/>
<rect x="146.45" y="277" width="1.0" height="60.6" fill="#f9e0d6"/>
<rect x="142.65" y="277" width="0.9" height="60.6" fill="#fbe6de"/>
<path d="M143.25,337 L147.25,337 L147.25,401.8 L144.85,405.3 L143.45,404.2 Z" fill="#d9503e"/>
<rect x="143.55" y="338" width="0.9" height="66" fill="#b83a30" opacity="0.4"/>
<path d="M147.25,338 L147.95,338 L147.95,401 L147.25,402 Z" fill="#f6c0b2"/>
<path d="M143.75,268 L146.05,269 L146.25,276 L143.65,275 Z" fill="#7a9e6a"/>
<line x1="144.15" y1="265" x2="144.15" y2="270.5" stroke="#4a4a4a" stroke-width="0.9"/>
<line x1="145.45" y1="268" x2="145.45" y2="273" stroke="#666" stroke-width="0.9"/>
<path d="M150.22,274 L152.52,274 L152.92,287 L152.92,337.6 L149.72,337.6 L149.72,281 Z" fill="#c9643f"/>
<rect x="152.92" y="277" width="1.0" height="60.6" fill="#f9e0d6"/>
<rect x="149.12" y="277" width="0.9" height="60.6" fill="#fbe6de"/>
<path d="M149.72,337 L153.72,337 L153.72,401.8 L151.32,405.3 L149.92,404.2 Z" fill="#d9503e"/>
<rect x="150.02" y="338" width="0.9" height="66" fill="#b83a30" opacity="0.4"/>
<path d="M153.72,338 L154.42,338 L154.42,401 L153.72,402 Z" fill="#f6c0b2"/>
<path d="M150.22,268 L152.52,269 L152.72,276 L150.12,275 Z" fill="#7a9e6a"/>
<line x1="150.62" y1="265" x2="150.62" y2="270.5" stroke="#4a4a4a" stroke-width="0.9"/>
<line x1="151.92" y1="268" x2="151.92" y2="273" stroke="#666" stroke-width="0.9"/>
<path d="M156.69,274 L158.99,274 L159.39,287 L159.39,337.6 L156.19,337.6 L156.19,281 Z" fill="#c9643f"/>
<rect x="159.39" y="277" width="1.0" height="60.6" fill="#f9e0d6"/>
<rect x="155.59" y="277" width="0.9" height="60.6" fill="#fbe6de"/>
<path d="M156.19,337 L160.19,337 L160.19,401.8 L157.79,405.3 L156.39,404.2 Z" fill="#d9503e"/>
<rect x="156.49" y="338" width="0.9" height="66" fill="#b83a30" opacity="0.4"/>
<path d="M160.19,338 L160.89,338 L160.89,401 L160.19,402 Z" fill="#f6c0b2"/>
<path d="M156.69,268 L158.99,269 L159.19,276 L156.59,275 Z" fill="#7a9e6a"/>
<line x1="157.09" y1="265" x2="157.09" y2="270.5" stroke="#4a4a4a" stroke-width="0.9"/>
<line x1="158.39" y1="268" x2="158.39" y2="273" stroke="#666" stroke-width="0.9"/>
<path d="M163.16,274 L165.46,274 L165.86,287 L165.86,337.6 L162.66,337.6 L162.66,281 Z" fill="#c9643f"/>
<rect x="165.86" y="277" width="1.0" height="60.6" fill="#f9e0d6"/>
<rect x="162.06" y="277" width="0.9" height="60.6" fill="#fbe6de"/>
<path d="M162.66,337 L166.66,337 L166.66,401.8 L164.26,405.3 L162.86,404.2 Z" fill="#d9503e"/>
<rect x="162.96" y="338" width="0.9" height="66" fill="#b83a30" opacity="0.4"/>
<path d="M166.66,338 L167.36,338 L167.36,401 L166.66,402 Z" fill="#f6c0b2"/>
<path d="M163.16,268 L165.46,269 L165.66,276 L163.06,275 Z" fill="#7a9e6a"/>
<line x1="163.56" y1="265" x2="163.56" y2="270.5" stroke="#4a4a4a" stroke-width="0.9"/>
<line x1="164.86" y1="268" x2="164.86" y2="273" stroke="#666" stroke-width="0.9"/>
<path d="M169.63,274 L171.93,274 L172.33,287 L172.33,337.6 L169.13,337.6 L169.13,281 Z" fill="#c9643f"/>
<rect x="172.33" y="277" width="1.0" height="60.6" fill="#f9e0d6"/>
<rect x="168.53" y="277" width="0.9" height="60.6" fill="#fbe6de"/>
<path d="M169.13,337 L173.13,337 L173.13,401.8 L170.73,405.3 L169.33,404.2 Z" fill="#d9503e"/>
<rect x="169.43" y="338" width="0.9" height="66" fill="#b83a30" opacity="0.4"/>
<path d="M173.13,338 L173.83,338 L173.83,401 L173.13,402 Z" fill="#f6c0b2"/>
<path d="M169.63,268 L171.93,269 L172.13,276 L169.53,275 Z" fill="#7a9e6a"/>
<line x1="170.03" y1="265" x2="170.03" y2="270.5" stroke="#4a4a4a" stroke-width="0.9"/>
<line x1="171.33" y1="268" x2="171.33" y2="273" stroke="#666" stroke-width="0.9"/>
<path d="M187.4,274.2 L189.7,274.2 L190.1,287.2 L190.1,337.6 L187.2,337.6 L187.2,281.2 Z" fill="#c9643f"/>
<rect x="190.1" y="277.2" width="1.0" height="60.4" fill="#f9e0d6"/>
<rect x="186.3" y="277.2" width="0.9" height="60.4" fill="#fbe6de"/>
<path d="M187.2,337 L190.9,337 L190.9,401.8 L188.5,405.3 L187.1,404.2 Z" fill="#d9503e"/>
<rect x="187.2" y="338" width="0.9" height="66" fill="#b83a30" opacity="0.4"/>
<path d="M190.9,338 L191.6,338 L191.6,401 L190.9,402 Z" fill="#f6c0b2"/>
<path d="M187.4,268.2 L189.7,269.2 L189.9,276.2 L187.3,275.2 Z" fill="#7a9e6a"/>
<line x1="187.8" y1="265.2" x2="187.8" y2="270.7" stroke="#4a4a4a" stroke-width="0.9"/>
<line x1="189.1" y1="268.2" x2="189.1" y2="273.2" stroke="#666" stroke-width="0.9"/>
<path d="M194.36,274.2 L196.66,274.2 L197.06,287.2 L197.06,337.6 L194.16,337.6 L194.16,281.2 Z" fill="#c9643f"/>
<rect x="197.06" y="277.2" width="1.0" height="60.4" fill="#f9e0d6"/>
<rect x="193.26" y="277.2" width="0.9" height="60.4" fill="#fbe6de"/>
<path d="M194.16,337 L197.86,337 L197.86,401.8 L195.46,405.3 L194.06,404.2 Z" fill="#d9503e"/>
<rect x="194.16" y="338" width="0.9" height="66" fill="#b83a30" opacity="0.4"/>
<path d="M197.86,338 L198.56,338 L198.56,401 L197.86,402 Z" fill="#f6c0b2"/>
<path d="M194.36,268.2 L196.66,269.2 L196.86,276.2 L194.26,275.2 Z" fill="#7a9e6a"/>
<line x1="194.76" y1="265.2" x2="194.76" y2="270.7" stroke="#4a4a4a" stroke-width="0.9"/>
<line x1="196.06" y1="268.2" x2="196.06" y2="273.2" stroke="#666" stroke-width="0.9"/>
<path d="M201.33,274.2 L203.63,274.2 L204.03,287.2 L204.03,337.6 L201.13,337.6 L201.13,281.2 Z" fill="#c9643f"/>
<rect x="204.03" y="277.2" width="1.0" height="60.4" fill="#f9e0d6"/>
<rect x="200.23" y="277.2" width="0.9" height="60.4" fill="#fbe6de"/>
<path d="M201.13,337 L204.83,337 L204.83,401.8 L202.43,405.3 L201.03,404.2 Z" fill="#d9503e"/>
<rect x="201.13" y="338" width="0.9" height="66" fill="#b83a30" opacity="0.4"/>
<path d="M204.83,338 L205.53,338 L205.53,401 L204.83,402 Z" fill="#f6c0b2"/>
<path d="M201.33,268.2 L203.63,269.2 L203.83,276.2 L201.23,275.2 Z" fill="#7a9e6a"/>
<line x1="201.73" y1="265.2" x2="201.73" y2="270.7" stroke="#4a4a4a" stroke-width="0.9"/>
<line x1="203.03" y1="268.2" x2="203.03" y2="273.2" stroke="#666" stroke-width="0.9"/>
<path d="M208.29,274.2 L210.59,274.2 L211,287.2 L211,337.6 L208.09,337.6 L208.09,281.2 Z" fill="#c9643f"/>
<rect x="211" y="277.2" width="1.0" height="60.4" fill="#f9e0d6"/>
<rect x="207.19" y="277.2" width="0.9" height="60.4" fill="#fbe6de"/>
<path d="M208.09,337 L211.79,337 L211.79,401.8 L209.39,405.3 L208,404.2 Z" fill="#d9503e"/>
<rect x="208.09" y="338" width="0.9" height="66" fill="#b83a30" opacity="0.4"/>
<path d="M211.79,338 L212.5,338 L212.5,401 L211.79,402 Z" fill="#f6c0b2"/>
<path d="M208.29,268.2 L210.59,269.2 L210.79,276.2 L208.19,275.2 Z" fill="#7a9e6a"/>
<line x1="208.69" y1="265.2" x2="208.69" y2="270.7" stroke="#4a4a4a" stroke-width="0.9"/>
<line x1="210" y1="268.2" x2="210" y2="273.2" stroke="#666" stroke-width="0.9"/>
<path d="M215.26,274.2 L217.56,274.2 L217.96,287.2 L217.96,337.6 L215.06,337.6 L215.06,281.2 Z" fill="#c9643f"/>
<rect x="217.96" y="277.2" width="1.0" height="60.4" fill="#f9e0d6"/>
<rect x="214.16" y="277.2" width="0.9" height="60.4" fill="#fbe6de"/>
<path d="M215.06,337 L218.76,337 L218.76,401.8 L216.36,405.3 L214.96,404.2 Z" fill="#d9503e"/>
<rect x="215.06" y="338" width="0.9" height="66" fill="#b83a30" opacity="0.4"/>
<path d="M218.76,338 L219.46,338 L219.46,401 L218.76,402 Z" fill="#f6c0b2"/>
<path d="M215.26,268.2 L217.56,269.2 L217.76,276.2 L215.16,275.2 Z" fill="#7a9e6a"/>
<line x1="215.66" y1="265.2" x2="215.66" y2="270.7" stroke="#4a4a4a" stroke-width="0.9"/>
<line x1="216.96" y1="268.2" x2="216.96" y2="273.2" stroke="#666" stroke-width="0.9"/>
<path d="M222.22,274.2 L224.53,274.2 L224.93,287.2 L224.93,337.6 L222.03,337.6 L222.03,281.2 Z" fill="#c9643f"/>
<rect x="224.93" y="277.2" width="1.0" height="60.4" fill="#f9e0d6"/>
<rect x="221.12" y="277.2" width="0.9" height="60.4" fill="#fbe6de"/>
<path d="M222.03,337 L225.72,337 L225.72,401.8 L223.32,405.3 L221.93,404.2 Z" fill="#d9503e"/>
<rect x="222.03" y="338" width="0.9" height="66" fill="#b83a30" opacity="0.4"/>
<path d="M225.72,338 L226.43,338 L226.43,401 L225.72,402 Z" fill="#f6c0b2"/>
<path d="M222.22,268.2 L224.53,269.2 L224.72,276.2 L222.12,275.2 Z" fill="#7a9e6a"/>
<line x1="222.62" y1="265.2" x2="222.62" y2="270.7" stroke="#4a4a4a" stroke-width="0.9"/>
<line x1="223.93" y1="268.2" x2="223.93" y2="273.2" stroke="#666" stroke-width="0.9"/>
<path d="M229.19,274.2 L231.49,274.2 L231.89,287.2 L231.89,337.6 L228.99,337.6 L228.99,281.2 Z" fill="#c9643f"/>
<rect x="231.89" y="277.2" width="1.0" height="60.4" fill="#f9e0d6"/>
<rect x="228.09" y="277.2" width="0.9" height="60.4" fill="#fbe6de"/>
<path d="M228.99,337 L232.69,337 L232.69,401.8 L230.29,405.3 L228.89,404.2 Z" fill="#d9503e"/>
<rect x="228.99" y="338" width="0.9" height="66" fill="#b83a30" opacity="0.4"/>
<path d="M232.69,338 L233.39,338 L233.39,401 L232.69,402 Z" fill="#f6c0b2"/>
<path d="M229.19,268.2 L231.49,269.2 L231.69,276.2 L229.09,275.2 Z" fill="#7a9e6a"/>
<line x1="229.59" y1="265.2" x2="229.59" y2="270.7" stroke="#4a4a4a" stroke-width="0.9"/>
<line x1="230.89" y1="268.2" x2="230.89" y2="273.2" stroke="#666" stroke-width="0.9"/>
<path d="M236.15,274.2 L238.45,274.2 L238.85,287.2 L238.85,337.6 L235.95,337.6 L235.95,281.2 Z" fill="#c9643f"/>
<rect x="238.85" y="277.2" width="1.0" height="60.4" fill="#f9e0d6"/>
<rect x="235.05" y="277.2" width="0.9" height="60.4" fill="#fbe6de"/>
<path d="M235.95,337 L239.65,337 L239.65,401.8 L237.25,405.3 L235.85,404.2 Z" fill="#d9503e"/>
<rect x="235.95" y="338" width="0.9" height="66" fill="#b83a30" opacity="0.4"/>
<path d="M239.65,338 L240.35,338 L240.35,401 L239.65,402 Z" fill="#f6c0b2"/>
<path d="M236.15,268.2 L238.45,269.2 L238.65,276.2 L236.05,275.2 Z" fill="#7a9e6a"/>
<line x1="236.55" y1="265.2" x2="236.55" y2="270.7" stroke="#4a4a4a" stroke-width="0.9"/>
<line x1="237.85" y1="268.2" x2="237.85" y2="273.2" stroke="#666" stroke-width="0.9"/>
<path d="M243.12,274.2 L245.42,274.2 L245.82,287.2 L245.82,337.6 L242.92,337.6 L242.92,281.2 Z" fill="#c9643f"/>
<rect x="245.82" y="277.2" width="1.0" height="60.4" fill="#f9e0d6"/>
<rect x="242.02" y="277.2" width="0.9" height="60.4" fill="#fbe6de"/>
<path d="M242.92,337 L246.62,337 L246.62,401.8 L244.22,405.3 L242.82,404.2 Z" fill="#d9503e"/>
<rect x="242.92" y="338" width="0.9" height="66" fill="#b83a30" opacity="0.4"/>
<path d="M246.62,338 L247.32,338 L247.32,401 L246.62,402 Z" fill="#f6c0b2"/>
<path d="M243.12,268.2 L245.42,269.2 L245.62,276.2 L243.02,275.2 Z" fill="#7a9e6a"/>
<line x1="243.52" y1="265.2" x2="243.52" y2="270.7" stroke="#4a4a4a" stroke-width="0.9"/>
<line x1="244.82" y1="268.2" x2="244.82" y2="273.2" stroke="#666" stroke-width="0.9"/>
<path d="M250.08,274.2 L252.38,274.2 L252.78,287.2 L252.78,337.6 L249.88,337.6 L249.88,281.2 Z" fill="#c9643f"/>
<rect x="252.78" y="277.2" width="1.0" height="60.4" fill="#f9e0d6"/>
<rect x="248.98" y="277.2" width="0.9" height="60.4" fill="#fbe6de"/>
<path d="M249.88,337 L253.58,337 L253.58,401.8 L251.18,405.3 L249.78,404.2 Z" fill="#d9503e"/>
<rect x="249.88" y="338" width="0.9" height="66" fill="#b83a30" opacity="0.4"/>
<path d="M253.58,338 L254.28,338 L254.28,401 L253.58,402 Z" fill="#f6c0b2"/>
<path d="M250.08,268.2 L252.38,269.2 L252.58,276.2 L249.98,275.2 Z" fill="#7a9e6a"/>
<line x1="250.48" y1="265.2" x2="250.48" y2="270.7" stroke="#4a4a4a" stroke-width="0.9"/>
<line x1="251.78" y1="268.2" x2="251.78" y2="273.2" stroke="#666" stroke-width="0.9"/>
<path d="M257.05,274.2 L259.35,274.2 L259.75,287.2 L259.75,337.6 L256.85,337.6 L256.85,281.2 Z" fill="#c9643f"/>
<rect x="259.75" y="277.2" width="1.0" height="60.4" fill="#f9e0d6"/>
<rect x="255.95" y="277.2" width="0.9" height="60.4" fill="#fbe6de"/>
<path d="M256.85,337 L260.55,337 L260.55,401.8 L258.15,405.3 L256.75,404.2 Z" fill="#d9503e"/>
<rect x="256.85" y="338" width="0.9" height="66" fill="#b83a30" opacity="0.4"/>
<path d="M260.55,338 L261.25,338 L261.25,401 L260.55,402 Z" fill="#f6c0b2"/>
<path d="M257.05,268.2 L259.35,269.2 L259.55,276.2 L256.95,275.2 Z" fill="#7a9e6a"/>
<line x1="257.45" y1="265.2" x2="257.45" y2="270.7" stroke="#4a4a4a" stroke-width="0.9"/>
<line x1="258.75" y1="268.2" x2="258.75" y2="273.2" stroke="#666" stroke-width="0.9"/>
<path d="M264.01,274.2 L266.31,274.2 L266.71,287.2 L266.71,337.6 L263.81,337.6 L263.81,281.2 Z" fill="#c9643f"/>
<rect x="266.71" y="277.2" width="1.0" height="60.4" fill="#f9e0d6"/>
<rect x="262.91" y="277.2" width="0.9" height="60.4" fill="#fbe6de"/>
<path d="M263.81,337 L267.51,337 L267.51,401.8 L265.11,405.3 L263.71,404.2 Z" fill="#d9503e"/>
<rect x="263.81" y="338" width="0.9" height="66" fill="#b83a30" opacity="0.4"/>
<path d="M267.51,338 L268.21,338 L268.21,401 L267.51,402 Z" fill="#f6c0b2"/>
<path d="M264.01,268.2 L266.31,269.2 L266.51,276.2 L263.91,275.2 Z" fill="#7a9e6a"/>
<line x1="264.41" y1="265.2" x2="264.41" y2="270.7" stroke="#4a4a4a" stroke-width="0.9"/>
<line x1="265.71" y1="268.2" x2="265.71" y2="273.2" stroke="#666" stroke-width="0.9"/>
<path d="M270.98,274.2 L273.28,274.2 L273.68,287.2 L273.68,337.6 L270.78,337.6 L270.78,281.2 Z" fill="#c9643f"/>
<rect x="273.68" y="277.2" width="1.0" height="60.4" fill="#f9e0d6"/>
<rect x="269.88" y="277.2" width="0.9" height="60.4" fill="#fbe6de"/>
<path d="M270.78,337 L274.48,337 L274.48,401.8 L272.08,405.3 L270.68,404.2 Z" fill="#d9503e"/>
<rect x="270.78" y="338" width="0.9" height="66" fill="#b83a30" opacity="0.4"/>
<path d="M274.48,338 L275.18,338 L275.18,401 L274.48,402 Z" fill="#f6c0b2"/>
<path d="M270.98,268.2 L273.28,269.2 L273.48,276.2 L270.88,275.2 Z" fill="#7a9e6a"/>
<line x1="271.38" y1="265.2" x2="271.38" y2="270.7" stroke="#4a4a4a" stroke-width="0.9"/>
<line x1="272.68" y1="268.2" x2="272.68" y2="273.2" stroke="#666" stroke-width="0.9"/>
<path d="M277.94,274.2 L280.24,274.2 L280.64,287.2 L280.64,337.6 L277.74,337.6 L277.74,281.2 Z" fill="#c9643f"/>
<rect x="280.64" y="277.2" width="1.0" height="60.4" fill="#f9e0d6"/>
<rect x="276.84" y="277.2" width="0.9" height="60.4" fill="#fbe6de"/>
<path d="M277.74,337 L281.44,337 L281.44,401.8 L279.04,405.3 L277.64,404.2 Z" fill="#d9503e"/>
<rect x="277.74" y="338" width="0.9" height="66" fill="#b83a30" opacity="0.4"/>
<path d="M281.44,338 L282.14,338 L282.14,401 L281.44,402 Z" fill="#f6c0b2"/>
<path d="M277.94,268.2 L280.24,269.2 L280.44,276.2 L277.84,275.2 Z" fill="#7a9e6a"/>
<line x1="278.34" y1="265.2" x2="278.34" y2="270.7" stroke="#4a4a4a" stroke-width="0.9"/>
<line x1="279.64" y1="268.2" x2="279.64" y2="273.2" stroke="#666" stroke-width="0.9"/>
<path d="M284.91,274.2 L287.21,274.2 L287.61,287.2 L287.61,337.6 L284.71,337.6 L284.71,281.2 Z" fill="#c9643f"/>
<rect x="287.61" y="277.2" width="1.0" height="60.4" fill="#f9e0d6"/>
<rect x="283.81" y="277.2" width="0.9" height="60.4" fill="#fbe6de"/>
<path d="M284.71,337 L288.41,337 L288.41,401.8 L286.01,405.3 L284.61,404.2 Z" fill="#d9503e"/>
<rect x="284.71" y="338" width="0.9" height="66" fill="#b83a30" opacity="0.4"/>
<path d="M288.41,338 L289.11,338 L289.11,401 L288.41,402 Z" fill="#f6c0b2"/>
<path d="M284.91,268.2 L287.21,269.2 L287.41,276.2 L284.81,275.2 Z" fill="#7a9e6a"/>
<line x1="285.31" y1="265.2" x2="285.31" y2="270.7" stroke="#4a4a4a" stroke-width="0.9"/>
<line x1="286.61" y1="268.2" x2="286.61" y2="273.2" stroke="#666" stroke-width="0.9"/>
<path d="M291.88,274.2 L294.17,274.2 L294.57,287.2 L294.57,337.6 L291.67,337.6 L291.67,281.2 Z" fill="#c9643f"/>
<rect x="294.57" y="277.2" width="1.0" height="60.4" fill="#f9e0d6"/>
<rect x="290.77" y="277.2" width="0.9" height="60.4" fill="#fbe6de"/>
<path d="M291.67,337 L295.38,337 L295.38,401.8 L292.97,405.3 L291.57,404.2 Z" fill="#d9503e"/>
<rect x="291.67" y="338" width="0.9" height="66" fill="#b83a30" opacity="0.4"/>
<path d="M295.38,338 L296.07,338 L296.07,401 L295.38,402 Z" fill="#f6c0b2"/>
<path d="M291.88,268.2 L294.17,269.2 L294.38,276.2 L291.77,275.2 Z" fill="#7a9e6a"/>
<line x1="292.27" y1="265.2" x2="292.27" y2="270.7" stroke="#4a4a4a" stroke-width="0.9"/>
<line x1="293.57" y1="268.2" x2="293.57" y2="273.2" stroke="#666" stroke-width="0.9"/>
<path d="M298.84,274.2 L301.14,274.2 L301.54,287.2 L301.54,337.6 L298.64,337.6 L298.64,281.2 Z" fill="#c9643f"/>
<rect x="301.54" y="277.2" width="1.0" height="60.4" fill="#f9e0d6"/>
<rect x="297.74" y="277.2" width="0.9" height="60.4" fill="#fbe6de"/>
<path d="M298.64,337 L302.34,337 L302.34,401.8 L299.94,405.3 L298.54,404.2 Z" fill="#d9503e"/>
<rect x="298.64" y="338" width="0.9" height="66" fill="#b83a30" opacity="0.4"/>
<path d="M302.34,338 L303.04,338 L303.04,401 L302.34,402 Z" fill="#f6c0b2"/>
<path d="M298.84,268.2 L301.14,269.2 L301.34,276.2 L298.74,275.2 Z" fill="#7a9e6a"/>
<line x1="299.24" y1="265.2" x2="299.24" y2="270.7" stroke="#4a4a4a" stroke-width="0.9"/>
<line x1="300.54" y1="268.2" x2="300.54" y2="273.2" stroke="#666" stroke-width="0.9"/>
<path d="M305.81,274.2 L308.1,274.2 L308.5,287.2 L308.5,337.6 L305.6,337.6 L305.6,281.2 Z" fill="#c9643f"/>
<rect x="308.5" y="277.2" width="1.0" height="60.4" fill="#f9e0d6"/>
<rect x="304.7" y="277.2" width="0.9" height="60.4" fill="#fbe6de"/>
<path d="M305.6,337 L309.31,337 L309.31,401.8 L306.9,405.3 L305.5,404.2 Z" fill="#d9503e"/>
<rect x="305.6" y="338" width="0.9" height="66" fill="#b83a30" opacity="0.4"/>
<path d="M309.31,338 L310,338 L310,401 L309.31,402 Z" fill="#f6c0b2"/>
<path d="M305.81,268.2 L308.1,269.2 L308.31,276.2 L305.7,275.2 Z" fill="#7a9e6a"/>
<line x1="306.2" y1="265.2" x2="306.2" y2="270.7" stroke="#4a4a4a" stroke-width="0.9"/>
<line x1="307.5" y1="268.2" x2="307.5" y2="273.2" stroke="#666" stroke-width="0.9"/>
<path d="M312.77,274.2 L315.07,274.2 L315.47,287.2 L315.47,337.6 L312.57,337.6 L312.57,281.2 Z" fill="#c9643f"/>
<rect x="315.47" y="277.2" width="1.0" height="60.4" fill="#f9e0d6"/>
<rect x="311.67" y="277.2" width="0.9" height="60.4" fill="#fbe6de"/>
<path d="M312.57,337 L316.27,337 L316.27,401.8 L313.87,405.3 L312.47,404.2 Z" fill="#d9503e"/>
<rect x="312.57" y="338" width="0.9" height="66" fill="#b83a30" opacity="0.4"/>
<path d="M316.27,338 L316.97,338 L316.97,401 L316.27,402 Z" fill="#f6c0b2"/>
<path d="M312.77,268.2 L315.07,269.2 L315.27,276.2 L312.67,275.2 Z" fill="#7a9e6a"/>
<line x1="313.17" y1="265.2" x2="313.17" y2="270.7" stroke="#4a4a4a" stroke-width="0.9"/>
<line x1="314.47" y1="268.2" x2="314.47" y2="273.2" stroke="#666" stroke-width="0.9"/>
<path d="M319.74,274.2 L322.03,274.2 L322.44,287.2 L322.44,337.6 L319.53,337.6 L319.53,281.2 Z" fill="#c9643f"/>
<rect x="322.44" y="277.2" width="1.0" height="60.4" fill="#f9e0d6"/>
<rect x="318.63" y="277.2" width="0.9" height="60.4" fill="#fbe6de"/>
<path d="M319.53,337 L323.24,337 L323.24,401.8 L320.83,405.3 L319.44,404.2 Z" fill="#d9503e"/>
<rect x="319.53" y="338" width="0.9" height="66" fill="#b83a30" opacity="0.4"/>
<path d="M323.24,338 L323.94,338 L323.94,401 L323.24,402 Z" fill="#f6c0b2"/>
<path d="M319.74,268.2 L322.03,269.2 L322.24,276.2 L319.63,275.2 Z" fill="#7a9e6a"/>
<line x1="320.13" y1="265.2" x2="320.13" y2="270.7" stroke="#4a4a4a" stroke-width="0.9"/>
<line x1="321.44" y1="268.2" x2="321.44" y2="273.2" stroke="#666" stroke-width="0.9"/>
<path d="M326.7,274.2 L329,274.2 L329.4,287.2 L329.4,337.6 L326.5,337.6 L326.5,281.2 Z" fill="#c9643f"/>
<rect x="329.4" y="277.2" width="1.0" height="60.4" fill="#f9e0d6"/>
<rect x="325.6" y="277.2" width="0.9" height="60.4" fill="#fbe6de"/>
<path d="M326.5,337 L330.2,337 L330.2,401.8 L327.8,405.3 L326.4,404.2 Z" fill="#d9503e"/>
<rect x="326.5" y="338" width="0.9" height="66" fill="#b83a30" opacity="0.4"/>
<path d="M330.2,338 L330.9,338 L330.9,401 L330.2,402 Z" fill="#f6c0b2"/>
<path d="M326.7,268.2 L329,269.2 L329.2,276.2 L326.6,275.2 Z" fill="#7a9e6a"/>
<line x1="327.1" y1="265.2" x2="327.1" y2="270.7" stroke="#4a4a4a" stroke-width="0.9"/>
<line x1="328.4" y1="268.2" x2="328.4" y2="273.2" stroke="#666" stroke-width="0.9"/>
<path d="M333.67,274.2 L335.96,274.2 L336.37,287.2 L336.37,337.6 L333.46,337.6 L333.46,281.2 Z" fill="#c9643f"/>
<rect x="336.37" y="277.2" width="1.0" height="60.4" fill="#f9e0d6"/>
<rect x="332.56" y="277.2" width="0.9" height="60.4" fill="#fbe6de"/>
<path d="M333.46,337 L337.17,337 L337.17,401.8 L334.76,405.3 L333.37,404.2 Z" fill="#d9503e"/>
<rect x="333.46" y="338" width="0.9" height="66" fill="#b83a30" opacity="0.4"/>
<path d="M337.17,338 L337.87,338 L337.87,401 L337.17,402 Z" fill="#f6c0b2"/>
<path d="M333.67,268.2 L335.96,269.2 L336.17,276.2 L333.56,275.2 Z" fill="#7a9e6a"/>
<line x1="334.06" y1="265.2" x2="334.06" y2="270.7" stroke="#4a4a4a" stroke-width="0.9"/>
<line x1="335.37" y1="268.2" x2="335.37" y2="273.2" stroke="#666" stroke-width="0.9"/>
<path d="M340.63,274.2 L342.93,274.2 L343.33,287.2 L343.33,337.6 L340.43,337.6 L340.43,281.2 Z" fill="#c9643f"/>
<rect x="343.33" y="277.2" width="1.0" height="60.4" fill="#f9e0d6"/>
<rect x="339.53" y="277.2" width="0.9" height="60.4" fill="#fbe6de"/>
<path d="M340.43,337 L344.13,337 L344.13,401.8 L341.73,405.3 L340.33,404.2 Z" fill="#d9503e"/>
<rect x="340.43" y="338" width="0.9" height="66" fill="#b83a30" opacity="0.4"/>
<path d="M344.13,338 L344.83,338 L344.83,401 L344.13,402 Z" fill="#f6c0b2"/>
<path d="M340.63,268.2 L342.93,269.2 L343.13,276.2 L340.53,275.2 Z" fill="#7a9e6a"/>
<line x1="341.03" y1="265.2" x2="341.03" y2="270.7" stroke="#4a4a4a" stroke-width="0.9"/>
<line x1="342.33" y1="268.2" x2="342.33" y2="273.2" stroke="#666" stroke-width="0.9"/>
<path d="M347.59,274.2 L349.89,274.2 L350.29,287.2 L350.29,337.6 L347.39,337.6 L347.39,281.2 Z" fill="#c9643f"/>
<rect x="350.29" y="277.2" width="1.0" height="60.4" fill="#f9e0d6"/>
<rect x="346.49" y="277.2" width="0.9" height="60.4" fill="#fbe6de"/>
<path d="M347.39,337 L351.09,337 L351.09,401.8 L348.69,405.3 L347.29,404.2 Z" fill="#d9503e"/>
<rect x="347.39" y="338" width="0.9" height="66" fill="#b83a30" opacity="0.4"/>
<path d="M351.09,338 L351.79,338 L351.79,401 L351.09,402 Z" fill="#f6c0b2"/>
<path d="M347.59,268.2 L349.89,269.2 L350.09,276.2 L347.49,275.2 Z" fill="#7a9e6a"/>
<line x1="347.99" y1="265.2" x2="347.99" y2="270.7" stroke="#4a4a4a" stroke-width="0.9"/>
<line x1="349.29" y1="268.2" x2="349.29" y2="273.2" stroke="#666" stroke-width="0.9"/>
<line x1="171.2" y1="405.6" x2="180.4" y2="368.3" stroke="#000" stroke-width="1.5"/>
<line x1="176.6" y1="406.2" x2="185.1" y2="368.9" stroke="#000" stroke-width="1.5"/>
<line x1="169.9" y1="589.6" x2="179.2" y2="552" stroke="#000" stroke-width="1.5"/>
<line x1="174.7" y1="589.6" x2="184" y2="552" stroke="#000" stroke-width="1.5"/>
<path d="M267.1,439.9 L295.1,439.9 L295.1,409.8" fill="none" stroke="#231f20" stroke-width="1.5"/>
<text x="300.75" y="431.25" font-size="12.93" font-weight="normal" fill="#231f20" stroke="#231f20" stroke-width="0.3" textLength="31.1" lengthAdjust="spacingAndGlyphs">20mV</text>
<text x="275.05" y="452.55" font-size="12.2" font-weight="normal" fill="#231f20" stroke="#231f20" stroke-width="0.3" textLength="10.1" lengthAdjust="spacingAndGlyphs">1s</text>
<line x1="16" y1="570.8" x2="36.2" y2="570.8" stroke="#dcae88" stroke-width="1.2"/>
<line x1="36.6" y1="444.2" x2="36.6" y2="469.4" stroke="#86c676" stroke-width="0.9"/>
<line x1="43.2" y1="469.7" x2="43.2" y2="522.8" stroke="#86c676" stroke-width="0.9"/>
<line x1="43.2" y1="469.5" x2="43.2" y2="470.9" stroke="#444" stroke-width="1"/>
<line x1="50.17" y1="471.31" x2="50.17" y2="522.8" stroke="#86c676" stroke-width="0.9"/>
<line x1="50.17" y1="471.11" x2="50.17" y2="472.51" stroke="#444" stroke-width="1"/>
<line x1="57.14" y1="472.56" x2="57.14" y2="522.8" stroke="#86c676" stroke-width="0.9"/>
<line x1="57.14" y1="472.36" x2="57.14" y2="473.76" stroke="#444" stroke-width="1"/>
<line x1="64.11" y1="473.54" x2="64.11" y2="522.8" stroke="#86c676" stroke-width="0.9"/>
<line x1="64.11" y1="473.34" x2="64.11" y2="474.74" stroke="#444" stroke-width="1"/>
<line x1="71.08" y1="474.3" x2="71.08" y2="522.8" stroke="#86c676" stroke-width="0.9"/>
<line x1="71.08" y1="474.1" x2="71.08" y2="475.5" stroke="#444" stroke-width="1"/>
<line x1="78.05" y1="474.89" x2="78.05" y2="522.8" stroke="#86c676" stroke-width="0.9"/>
<line x1="78.05" y1="474.69" x2="78.05" y2="476.09" stroke="#444" stroke-width="1"/>
<line x1="85.02" y1="475.36" x2="85.02" y2="522.8" stroke="#86c676" stroke-width="0.9"/>
<line x1="85.02" y1="475.16" x2="85.02" y2="476.56" stroke="#444" stroke-width="1"/>
<line x1="91.99" y1="475.72" x2="91.99" y2="522.8" stroke="#86c676" stroke-width="0.9"/>
<line x1="91.99" y1="475.52" x2="91.99" y2="476.92" stroke="#444" stroke-width="1"/>
<line x1="98.96" y1="476" x2="98.96" y2="522.8" stroke="#86c676" stroke-width="0.9"/>
<line x1="98.96" y1="475.8" x2="98.96" y2="477.2" stroke="#444" stroke-width="1"/>
<line x1="105.93" y1="476.21" x2="105.93" y2="522.8" stroke="#86c676" stroke-width="0.9"/>
<line x1="105.93" y1="476.01" x2="105.93" y2="477.41" stroke="#444" stroke-width="1"/>
<line x1="112.9" y1="476.38" x2="112.9" y2="522.8" stroke="#86c676" stroke-width="0.9"/>
<line x1="112.9" y1="476.18" x2="112.9" y2="477.58" stroke="#444" stroke-width="1"/>
<line x1="119.87" y1="476.52" x2="119.87" y2="522.8" stroke="#86c676" stroke-width="0.9"/>
<line x1="119.87" y1="476.32" x2="119.87" y2="477.72" stroke="#444" stroke-width="1"/>
<line x1="126.84" y1="476.62" x2="126.84" y2="522.8" stroke="#86c676" stroke-width="0.9"/>
<line x1="126.84" y1="476.42" x2="126.84" y2="477.82" stroke="#444" stroke-width="1"/>
<line x1="133.81" y1="476.7" x2="133.81" y2="522.8" stroke="#86c676" stroke-width="0.9"/>
<line x1="133.81" y1="476.5" x2="133.81" y2="477.9" stroke="#444" stroke-width="1"/>
<line x1="140.78" y1="476.76" x2="140.78" y2="522.8" stroke="#86c676" stroke-width="0.9"/>
<line x1="140.78" y1="476.56" x2="140.78" y2="477.96" stroke="#444" stroke-width="1"/>
<line x1="147.75" y1="476.81" x2="147.75" y2="522.8" stroke="#86c676" stroke-width="0.9"/>
<line x1="147.75" y1="476.61" x2="147.75" y2="478.01" stroke="#444" stroke-width="1"/>
<line x1="154.72" y1="476.85" x2="154.72" y2="522.8" stroke="#86c676" stroke-width="0.9"/>
<line x1="154.72" y1="476.65" x2="154.72" y2="478.05" stroke="#444" stroke-width="1"/>
<line x1="161.69" y1="476.88" x2="161.69" y2="522.8" stroke="#86c676" stroke-width="0.9"/>
<line x1="161.69" y1="476.68" x2="161.69" y2="478.08" stroke="#444" stroke-width="1"/>
<line x1="168.66" y1="476.9" x2="168.66" y2="522.8" stroke="#86c676" stroke-width="0.9"/>
<line x1="168.66" y1="476.7" x2="168.66" y2="478.1" stroke="#444" stroke-width="1"/>
<path d="M36.45,571 L36.6,468.4 L37.1,557 L37.5,561 L37.9,560 L38.5,573.5 L39.2,573.8 L41.2,572.4 L43.05,571 L43.2,521.8 L43.7,557 L44.1,561 L44.5,560 L45.1,573.5 L45.8,573.8 L47.98,572.4 L50.02,571 L50.17,521.8 L50.67,557 L51.07,561 L51.47,560 L52.07,573.5 L52.77,573.8 L54.95,572.4 L56.99,571 L57.14,521.8 L57.64,557 L58.04,561 L58.44,560 L59.04,573.5 L59.74,573.8 L61.92,572.4 L63.96,571 L64.11,521.8 L64.61,557 L65.01,561 L65.41,560 L66.01,573.5 L66.71,573.8 L68.89,572.4 L70.93,571 L71.08,521.8 L71.58,557 L71.98,561 L72.38,560 L72.98,573.5 L73.68,573.8 L75.87,572.4 L77.9,571 L78.05,521.8 L78.55,557 L78.95,561 L79.35,560 L79.95,573.5 L80.65,573.8 L82.84,572.4 L84.87,571 L85.02,521.8 L85.52,557 L85.92,561 L86.32,560 L86.92,573.5 L87.62,573.8 L89.81,572.4 L91.84,571 L91.99,521.8 L92.49,557 L92.89,561 L93.29,560 L93.89,573.5 L94.59,573.8 L96.78,572.4 L98.81,571 L98.96,521.8 L99.46,557 L99.86,561 L100.26,560 L100.86,573.5 L101.56,573.8 L103.75,572.4 L105.78,571 L105.93,521.8 L106.43,557 L106.83,561 L107.23,560 L107.83,573.5 L108.53,573.8 L110.72,572.4 L112.75,571 L112.9,521.8 L113.4,557 L113.8,561 L114.2,560 L114.8,573.5 L115.5,573.8 L117.69,572.4 L119.72,571 L119.87,521.8 L120.37,557 L120.77,561 L121.17,560 L121.77,573.5 L122.47,573.8 L124.66,572.4 L126.69,571 L126.84,521.8 L127.34,557 L127.74,561 L128.14,560 L128.74,573.5 L129.44,573.8 L131.62,572.4 L133.66,571 L133.81,521.8 L134.31,557 L134.71,561 L135.11,560 L135.71,573.5 L136.41,573.8 L138.59,572.4 L140.63,571 L140.78,521.8 L141.28,557 L141.68,561 L142.08,560 L142.68,573.5 L143.38,573.8 L145.56,572.4 L147.6,571 L147.75,521.8 L148.25,557 L148.65,561 L149.05,560 L149.65,573.5 L150.35,573.8 L152.53,572.4 L154.57,571 L154.72,521.8 L155.22,557 L155.62,561 L156.02,560 L156.62,573.5 L157.32,573.8 L159.5,572.4 L161.54,571 L161.69,521.8 L162.19,557 L162.59,561 L162.99,560 L163.59,573.5 L164.29,573.8 L166.47,572.4 L168.51,571 L168.66,521.8 L169.16,557 L169.56,561 L169.96,560 L170.56,573.5 L171.26,573.8 L170.88,572.4 L170.5,571.5" fill="none" stroke="#e2605a" stroke-width="0.9" stroke-linejoin="round" />
<line x1="186" y1="477.5" x2="186" y2="525.6" stroke="#86c676" stroke-width="0.9"/>
<line x1="186" y1="477.3" x2="186" y2="478.7" stroke="#444" stroke-width="1"/>
<line x1="192.97" y1="477.5" x2="192.97" y2="525.6" stroke="#86c676" stroke-width="0.9"/>
<line x1="192.97" y1="477.3" x2="192.97" y2="478.7" stroke="#444" stroke-width="1"/>
<line x1="199.93" y1="477.5" x2="199.93" y2="525.6" stroke="#86c676" stroke-width="0.9"/>
<line x1="199.93" y1="477.3" x2="199.93" y2="478.7" stroke="#444" stroke-width="1"/>
<line x1="206.9" y1="477.5" x2="206.9" y2="525.6" stroke="#86c676" stroke-width="0.9"/>
<line x1="206.9" y1="477.3" x2="206.9" y2="478.7" stroke="#444" stroke-width="1"/>
<line x1="213.86" y1="477.5" x2="213.86" y2="525.6" stroke="#86c676" stroke-width="0.9"/>
<line x1="213.86" y1="477.3" x2="213.86" y2="478.7" stroke="#444" stroke-width="1"/>
<line x1="220.82" y1="477.5" x2="220.82" y2="525.6" stroke="#86c676" stroke-width="0.9"/>
<line x1="220.82" y1="477.3" x2="220.82" y2="478.7" stroke="#444" stroke-width="1"/>
<line x1="227.79" y1="477.5" x2="227.79" y2="525.6" stroke="#86c676" stroke-width="0.9"/>
<line x1="227.79" y1="477.3" x2="227.79" y2="478.7" stroke="#444" stroke-width="1"/>
<line x1="234.75" y1="477.5" x2="234.75" y2="525.6" stroke="#86c676" stroke-width="0.9"/>
<line x1="234.75" y1="477.3" x2="234.75" y2="478.7" stroke="#444" stroke-width="1"/>
<line x1="241.72" y1="477.5" x2="241.72" y2="525.6" stroke="#86c676" stroke-width="0.9"/>
<line x1="241.72" y1="477.3" x2="241.72" y2="478.7" stroke="#444" stroke-width="1"/>
<line x1="248.69" y1="477.5" x2="248.69" y2="525.6" stroke="#86c676" stroke-width="0.9"/>
<line x1="248.69" y1="477.3" x2="248.69" y2="478.7" stroke="#444" stroke-width="1"/>
<line x1="255.65" y1="477.5" x2="255.65" y2="525.6" stroke="#86c676" stroke-width="0.9"/>
<line x1="255.65" y1="477.3" x2="255.65" y2="478.7" stroke="#444" stroke-width="1"/>
<line x1="262.62" y1="477.5" x2="262.62" y2="525.6" stroke="#86c676" stroke-width="0.9"/>
<line x1="262.62" y1="477.3" x2="262.62" y2="478.7" stroke="#444" stroke-width="1"/>
<line x1="269.58" y1="477.5" x2="269.58" y2="525.6" stroke="#86c676" stroke-width="0.9"/>
<line x1="269.58" y1="477.3" x2="269.58" y2="478.7" stroke="#444" stroke-width="1"/>
<line x1="276.55" y1="477.5" x2="276.55" y2="525.6" stroke="#86c676" stroke-width="0.9"/>
<line x1="276.55" y1="477.3" x2="276.55" y2="478.7" stroke="#444" stroke-width="1"/>
<line x1="283.51" y1="477.5" x2="283.51" y2="525.6" stroke="#86c676" stroke-width="0.9"/>
<line x1="283.51" y1="477.3" x2="283.51" y2="478.7" stroke="#444" stroke-width="1"/>
<line x1="290.48" y1="477.5" x2="290.48" y2="525.6" stroke="#86c676" stroke-width="0.9"/>
<line x1="290.48" y1="477.3" x2="290.48" y2="478.7" stroke="#444" stroke-width="1"/>
<line x1="297.44" y1="477.5" x2="297.44" y2="525.6" stroke="#86c676" stroke-width="0.9"/>
<line x1="297.44" y1="477.3" x2="297.44" y2="478.7" stroke="#444" stroke-width="1"/>
<line x1="304.4" y1="477.5" x2="304.4" y2="525.6" stroke="#86c676" stroke-width="0.9"/>
<line x1="304.4" y1="477.3" x2="304.4" y2="478.7" stroke="#444" stroke-width="1"/>
<line x1="311.37" y1="477.5" x2="311.37" y2="525.6" stroke="#86c676" stroke-width="0.9"/>
<line x1="311.37" y1="477.3" x2="311.37" y2="478.7" stroke="#444" stroke-width="1"/>
<line x1="318.34" y1="477.5" x2="318.34" y2="525.6" stroke="#86c676" stroke-width="0.9"/>
<line x1="318.34" y1="477.3" x2="318.34" y2="478.7" stroke="#444" stroke-width="1"/>
<line x1="325.3" y1="477.5" x2="325.3" y2="525.6" stroke="#86c676" stroke-width="0.9"/>
<line x1="325.3" y1="477.3" x2="325.3" y2="478.7" stroke="#444" stroke-width="1"/>
<line x1="332.26" y1="477.5" x2="332.26" y2="525.6" stroke="#86c676" stroke-width="0.9"/>
<line x1="332.26" y1="477.3" x2="332.26" y2="478.7" stroke="#444" stroke-width="1"/>
<line x1="339.23" y1="477.5" x2="339.23" y2="525.6" stroke="#86c676" stroke-width="0.9"/>
<line x1="339.23" y1="477.3" x2="339.23" y2="478.7" stroke="#444" stroke-width="1"/>
<line x1="346.19" y1="477.5" x2="346.19" y2="525.6" stroke="#86c676" stroke-width="0.9"/>
<line x1="346.19" y1="477.3" x2="346.19" y2="478.7" stroke="#444" stroke-width="1"/>
<path d="M185.85,571 L186,524.6 L186.5,557 L186.9,561 L187.3,560 L187.9,573.5 L188.6,573.8 L190.78,572.4 L192.81,571 L192.97,524.6 L193.47,557 L193.87,561 L194.27,560 L194.87,573.5 L195.56,573.8 L197.75,572.4 L199.78,571 L199.93,524.6 L200.43,557 L200.83,561 L201.23,560 L201.83,573.5 L202.53,573.8 L204.71,572.4 L206.75,571 L206.9,524.6 L207.4,557 L207.8,561 L208.2,560 L208.8,573.5 L209.5,573.8 L211.68,572.4 L213.71,571 L213.86,524.6 L214.36,557 L214.76,561 L215.16,560 L215.76,573.5 L216.46,573.8 L218.64,572.4 L220.67,571 L220.82,524.6 L221.32,557 L221.72,561 L222.12,560 L222.72,573.5 L223.42,573.8 L225.61,572.4 L227.64,571 L227.79,524.6 L228.29,557 L228.69,561 L229.09,560 L229.69,573.5 L230.39,573.8 L232.57,572.4 L234.6,571 L234.75,524.6 L235.25,557 L235.66,561 L236.06,560 L236.66,573.5 L237.35,573.8 L239.54,572.4 L241.57,571 L241.72,524.6 L242.22,557 L242.62,561 L243.02,560 L243.62,573.5 L244.32,573.8 L246.5,572.4 L248.53,571 L248.69,524.6 L249.19,557 L249.59,561 L249.99,560 L250.59,573.5 L251.28,573.8 L253.47,572.4 L255.5,571 L255.65,524.6 L256.15,557 L256.55,561 L256.95,560 L257.55,573.5 L258.25,573.8 L260.43,572.4 L262.47,571 L262.62,524.6 L263.12,557 L263.51,561 L263.92,560 L264.51,573.5 L265.22,573.8 L267.4,572.4 L269.43,571 L269.58,524.6 L270.08,557 L270.48,561 L270.88,560 L271.48,573.5 L272.18,573.8 L274.36,572.4 L276.4,571 L276.55,524.6 L277.05,557 L277.44,561 L277.85,560 L278.44,573.5 L279.15,573.8 L281.33,572.4 L283.36,571 L283.51,524.6 L284.01,557 L284.41,561 L284.81,560 L285.41,573.5 L286.11,573.8 L288.29,572.4 L290.33,571 L290.48,524.6 L290.98,557 L291.38,561 L291.78,560 L292.38,573.5 L293.08,573.8 L295.26,572.4 L297.29,571 L297.44,524.6 L297.94,557 L298.34,561 L298.74,560 L299.34,573.5 L300.04,573.8 L302.22,572.4 L304.25,571 L304.4,524.6 L304.9,557 L305.3,561 L305.7,560 L306.3,573.5 L307,573.8 L309.19,572.4 L311.22,571 L311.37,524.6 L311.87,557 L312.27,561 L312.67,560 L313.27,573.5 L313.97,573.8 L316.15,572.4 L318.19,571 L318.34,524.6 L318.84,557 L319.24,561 L319.64,560 L320.24,573.5 L320.94,573.8 L323.12,572.4 L325.15,571 L325.3,524.6 L325.8,557 L326.2,561 L326.6,560 L327.2,573.5 L327.9,573.8 L330.08,572.4 L332.12,571 L332.26,524.6 L332.76,557 L333.16,561 L333.56,560 L334.16,573.5 L334.87,573.8 L337.05,572.4 L339.08,571 L339.23,524.6 L339.73,557 L340.13,561 L340.53,560 L341.13,573.5 L341.83,573.8 L344.01,572.4 L346.05,571 L346.19,524.6 L346.69,557 L347.09,561 L347.5,560 L348.09,573.5 L348.8,573.8 L347.9,572.4 L347,571.5" fill="none" stroke="#e2605a" stroke-width="0.9" stroke-linejoin="round" />
<line x1="36.6" y1="588.4" x2="36.6" y2="592" stroke="#231f20" stroke-width="0.8"/>
<text x="392.35" y="290.75" font-size="13.36" font-weight="bold" fill="#000" stroke="#000" stroke-width="0.3" textLength="8.5" lengthAdjust="spacingAndGlyphs">D</text>
<path d="M439.9,322.4 L437.7,322.4 L437.7,475.6 L631.4,475.6 L631.4,473.4" fill="none" stroke="#6d6e71" stroke-width="1"/>
<line x1="437.7" y1="347.9" x2="439.9" y2="347.9" stroke="#6d6e71" stroke-width="1"/>
<line x1="437.7" y1="373.5" x2="439.9" y2="373.5" stroke="#6d6e71" stroke-width="1"/>
<line x1="437.7" y1="399.0" x2="439.9" y2="399.0" stroke="#6d6e71" stroke-width="1"/>
<line x1="437.7" y1="424.5" x2="439.9" y2="424.5" stroke="#6d6e71" stroke-width="1"/>
<line x1="437.7" y1="450.1" x2="439.9" y2="450.1" stroke="#6d6e71" stroke-width="1"/>
<line x1="470.2" y1="475.6" x2="470.2" y2="473.4" stroke="#6d6e71" stroke-width="1"/>
<line x1="502.6" y1="475.6" x2="502.6" y2="473.4" stroke="#6d6e71" stroke-width="1"/>
<line x1="534.6" y1="475.6" x2="534.6" y2="473.4" stroke="#6d6e71" stroke-width="1"/>
<line x1="567" y1="475.6" x2="567" y2="473.4" stroke="#6d6e71" stroke-width="1"/>
<line x1="599" y1="475.6" x2="599" y2="473.4" stroke="#6d6e71" stroke-width="1"/>
<text x="420.95" y="324.85" font-size="11.91" font-weight="normal" fill="#231f20" stroke="#231f20" stroke-width="0.3" textLength="12.9" lengthAdjust="spacingAndGlyphs">20</text>
<text x="421.85" y="350.35" font-size="11.91" font-weight="normal" fill="#231f20" stroke="#231f20" stroke-width="0.3" textLength="12" lengthAdjust="spacingAndGlyphs">15</text>
<text x="421.45" y="375.95" font-size="11.91" font-weight="normal" fill="#231f20" stroke="#231f20" stroke-width="0.3" textLength="12.4" lengthAdjust="spacingAndGlyphs">10</text>
<text x="427.75" y="401.45" font-size="11.91" font-weight="normal" fill="#231f20" stroke="#231f20" stroke-width="0.3" textLength="6.1" lengthAdjust="spacingAndGlyphs">5</text>
<text x="427.55" y="426.95" font-size="11.91" font-weight="normal" fill="#231f20" stroke="#231f20" stroke-width="0.3" textLength="6.3" lengthAdjust="spacingAndGlyphs">0</text>
<text x="423.55" y="452.55" font-size="11.91" font-weight="normal" fill="#231f20" stroke="#231f20" stroke-width="0.3" textLength="9.7" lengthAdjust="spacingAndGlyphs">-5</text>
<text x="416.15" y="478.05" font-size="11.91" font-weight="normal" fill="#231f20" stroke="#231f20" stroke-width="0.3" textLength="17.7" lengthAdjust="spacingAndGlyphs">-10</text>
<text x="435.15" y="488.15" font-size="11.18" font-weight="normal" fill="#231f20" stroke="#231f20" stroke-width="0.3" textLength="5.7" lengthAdjust="spacingAndGlyphs">0</text>
<text x="464.15" y="488.15" font-size="11.18" font-weight="normal" fill="#231f20" stroke="#231f20" stroke-width="0.3" textLength="13.3" lengthAdjust="spacingAndGlyphs">10</text>
<text x="496.95" y="488.15" font-size="11.18" font-weight="normal" fill="#231f20" stroke="#231f20" stroke-width="0.3" textLength="13.3" lengthAdjust="spacingAndGlyphs">20</text>
<text x="526.35" y="488.15" font-size="11.18" font-weight="normal" fill="#231f20" stroke="#231f20" stroke-width="0.3" textLength="13.9" lengthAdjust="spacingAndGlyphs">30</text>
<text x="559.55" y="488.15" font-size="11.18" font-weight="normal" fill="#231f20" stroke="#231f20" stroke-width="0.3" textLength="13.9" lengthAdjust="spacingAndGlyphs">40</text>
<text x="592.95" y="488.15" font-size="11.18" font-weight="normal" fill="#231f20" stroke="#231f20" stroke-width="0.3" textLength="13.1" lengthAdjust="spacingAndGlyphs">50</text>
<text x="624.85" y="488.15" font-size="11.18" font-weight="normal" fill="#231f20" stroke="#231f20" stroke-width="0.3" textLength="14.5" lengthAdjust="spacingAndGlyphs">60</text>
<text x="517.85" y="505.05" font-size="12.3" font-weight="normal" fill="#231f20" stroke="#231f20" stroke-width="0.3" textLength="46.2" lengthAdjust="spacingAndGlyphs">Time (s )</text>
<text transform="translate(412.8,449.5) rotate(-90)" x="0" y="0" font-size="12.8" fill="#231f20" textLength="105.2" lengthAdjust="spacingAndGlyphs">AP&#160; amplitude (mV)</text>
<line x1="438.1" y1="348" x2="438.1" y2="426" stroke="#6cc24a" stroke-width="1.1"/>
<path d="M437.8,426.59 L438.12,427.2 L438.45,428.15 L438.77,429.27 L439.1,430.48 L439.42,431.75 L439.74,433.05 L440.07,434.35 L440.39,435.63 L440.72,436.89 L441.04,438.11 L441.36,439.28 L441.69,440.41 L442.01,441.47 L442.34,442.48 L442.66,443.43 L442.98,444.32 L443.31,445.15 L443.63,445.92 L443.96,446.64 L444.28,447.3 L444.6,447.91 L444.93,448.47 L445.25,448.99 L445.58,449.46 L445.9,449.89 L446.22,450.28 L446.55,450.64 L446.87,450.96 L447.2,451.26 L447.52,451.52 L447.84,451.77 L448.17,451.99 L448.49,452.18 L448.82,452.36 L449.14,452.52 L449.46,452.67 L449.79,452.8 L450.11,452.92 L450.44,453.03 L450.76,453.13 L451.08,453.22 L451.41,453.3 L451.73,453.38 L452.06,453.45 L452.38,453.51 L452.7,453.57 L453.03,453.63 L453.35,453.68 L453.68,453.72 L454,453.77 L454.32,453.81 L454.65,453.85 L454.97,453.89 L455.3,453.92 L455.62,453.96 L455.94,453.99 L456.27,454.02 L456.59,454.05 L456.92,454.08 L457.24,454.11 L457.56,454.14 L457.89,454.17 L458.21,454.2 L458.54,454.22 L458.86,454.25 L459.18,454.28 L459.51,454.3 L459.83,454.33 L460.16,454.35 L460.48,454.38 L460.8,454.41 L461.13,454.43 L461.45,454.46 L461.78,454.48 L462.1,454.51 L462.42,454.53 L462.75,454.56 L463.07,454.58 L463.4,454.61 L463.72,454.63 L464.04,454.66 L464.37,454.69 L464.69,454.71 L465.02,454.74 L465.34,454.76 L465.66,454.79 L465.99,454.81 L466.31,454.84 L466.64,454.86 L466.96,454.89 L467.28,454.91 L467.61,454.94 L467.93,454.96 L468.26,454.99 L468.58,455.01 L468.9,455.04 L469.23,455.06 L469.55,455.09 L469.88,455.11 L470.2,455.14 L470.52,455.16 L470.85,455.19 L471.17,455.21 L471.5,455.24 L471.82,455.26 L472.14,455.29 L472.47,455.31 L472.79,455.34 L473.12,455.36 L473.44,455.39 L473.76,455.41 L474.09,455.44 L474.41,455.46 L474.74,455.49 L475.06,455.51 L475.38,455.54 L475.71,455.56 L476.03,455.59 L476.36,455.61 L476.68,455.64 L477,455.66 L477.33,455.69 L477.65,455.71 L477.98,455.74 L478.3,455.76 L478.62,455.79 L478.95,455.81 L479.27,455.84 L479.6,455.86 L479.92,455.89 L480.24,455.91 L480.57,455.94 L480.89,455.96 L481.22,455.99 L481.54,456.01 L481.86,456.04 L482.19,456.06 L482.51,456.09 L482.84,456.11 L483.16,456.14 L483.48,456.16 L483.81,456.19 L484.13,456.21 L484.46,456.24 L484.78,456.26 L485.1,456.29 L485.43,456.31 L485.75,456.34 L486.08,456.36 L486.4,456.39 L486.72,456.41 L487.05,456.44 L487.37,456.46 L487.7,456.49 L488.02,456.51 L488.34,456.54 L488.67,456.56 L488.99,456.59 L489.32,456.61 L489.64,456.64 L489.96,456.66 L490.29,456.69 L490.61,456.71 L490.94,456.74 L491.26,456.76 L491.58,456.79 L491.91,456.81 L492.23,456.84 L492.56,456.86 L492.88,456.89 L493.2,456.91 L493.53,456.94 L493.85,456.96 L494.18,456.99 L494.5,457.01 L494.82,457.04 L495.15,457.06 L495.47,457.09 L495.8,457.11 L496.12,457.14 L496.44,457.16 L496.77,457.19 L497.09,457.21 L497.42,457.24 L497.74,457.26 L498.06,457.29 L498.39,457.31 L498.71,457.34 L499.04,457.36 L499.36,457.39 L499.68,457.41 L500.01,457.44 L500.33,457.46 L500.66,457.49 L500.98,457.51 L501.3,457.54 L501.63,457.56 L501.95,457.59 L502.28,457.61 L502.6,457.64 L502.92,457.66 L503.25,457.69 L503.57,457.71 L503.9,457.74 L504.22,457.76 L504.54,457.79 L504.87,457.81 L505.19,457.84 L505.52,457.86 L505.84,457.89 L506.16,457.91 L506.49,457.94 L506.81,457.96 L507.14,457.99 L507.46,458.01 L507.78,458.04 L508.11,458.06 L508.43,458.09 L508.76,458.11 L509.08,458.14 L509.4,458.16 L509.73,458.19 L510.05,458.21 L510.38,458.24 L510.7,458.26 L511.02,458.29 L511.35,458.31 L511.67,458.34 L512,458.36 L512.32,458.39 L512.64,458.41 L512.97,458.44 L513.29,458.46 L513.62,458.49 L513.94,458.51 L514.26,458.54 L514.59,458.56 L514.91,458.59 L515.24,458.61 L515.56,458.64 L515.88,458.66 L516.21,458.69 L516.53,458.71 L516.86,458.74 L517.18,458.76 L517.5,458.79 L517.83,458.81 L518.15,458.84 L518.48,458.86 L518.8,458.89 L519.12,458.91 L519.45,458.94 L519.77,458.96 L520.1,458.99 L520.42,459.01 L520.74,459.04 L521.07,459.06 L521.39,459.09 L521.72,459.11 L522.04,459.14 L522.36,459.16 L522.69,459.19 L523.01,459.21 L523.34,459.24 L523.66,459.26 L523.98,459.29 L524.31,459.31 L524.63,459.34 L524.96,459.36 L525.28,459.39 L525.6,459.41 L525.93,459.44 L526.25,459.46 L526.58,459.49 L526.9,459.51 L527.22,459.54 L527.55,459.56 L527.87,459.59 L528.2,459.61 L528.52,459.64 L528.84,459.66 L529.17,459.69 L529.49,459.71 L529.82,459.74 L530.14,459.76 L530.46,459.79 L530.79,459.81 L531.11,459.84 L531.44,459.86 L531.76,459.89 L532.08,459.91 L532.41,459.94 L532.73,459.96 L533.06,459.99 L533.38,460.01 L533.7,460.04 L534.03,460.06 L534.35,460.09 L534.68,460.11 L535,460.14 L535.32,460.16 L535.65,460.19 L535.97,460.21 L536.3,460.24 L536.62,460.26 L536.94,460.29 L537.27,460.32 L537.59,460.34 L537.92,460.37 L538.24,460.39 L538.56,460.42 L538.89,460.44 L539.21,460.47 L539.54,460.49 L539.86,460.52 L540.18,460.54 L540.51,460.57 L540.83,460.59 L541.16,460.62 L541.48,460.64 L541.8,460.67 L542.13,460.69 L542.45,460.72 L542.78,460.74 L543.1,460.77 L543.42,460.79 L543.75,460.82 L544.07,460.84 L544.4,460.87 L544.72,460.89 L545.04,460.92 L545.37,460.94 L545.69,460.97 L546.02,460.99 L546.34,461.02 L546.66,461.04 L546.99,461.07 L547.31,461.09 L547.64,461.12 L547.96,461.14 L548.28,461.17 L548.61,461.19 L548.93,461.22 L549.26,461.24 L549.58,461.27 L549.9,461.29 L550.23,461.32 L550.55,461.34 L550.88,461.37 L551.2,461.39 L551.52,461.42 L551.85,461.44 L552.17,461.47 L552.5,461.49 L552.82,461.52 L553.14,461.54 L553.47,461.57 L553.79,461.59 L554.12,461.62 L554.44,461.64 L554.76,461.67 L555.09,461.69 L555.41,461.72 L555.74,461.74 L556.06,461.77 L556.38,461.79 L556.71,461.82 L557.03,461.84 L557.36,461.87 L557.68,461.89 L558,461.92 L558.33,461.94 L558.65,461.97 L558.98,461.99 L559.3,462.02 L559.62,462.04 L559.95,462.07 L560.27,462.09 L560.6,462.12 L560.92,462.14 L561.24,462.17 L561.57,462.19 L561.89,462.22 L562.22,462.24 L562.54,462.27 L562.86,462.29 L563.19,462.32 L563.51,462.34 L563.84,462.37 L564.16,462.39 L564.48,462.42 L564.81,462.44 L565.13,462.47 L565.46,462.49 L565.78,462.52 L566.1,462.54 L566.43,462.57 L566.75,462.59 L567.08,462.62 L567.4,462.64 L567.72,462.67 L568.05,462.69 L568.37,462.72 L568.7,462.74 L569.02,462.77 L569.34,462.79 L569.67,462.82 L569.99,462.84 L570.32,462.87 L570.64,462.89 L570.96,462.92 L571.29,462.94 L571.61,462.97 L571.94,462.99 L572.26,463.02 L572.58,463.04 L572.91,463.07 L573.23,463.09 L573.56,463.12 L573.88,463.14 L574.2,463.17 L574.53,463.19 L574.85,463.22 L575.18,463.24 L575.5,463.27 L575.82,463.29 L576.15,463.32 L576.47,463.34 L576.8,463.37 L577.12,463.39 L577.44,463.42 L577.77,463.44 L578.09,463.47 L578.42,463.49 L578.74,463.52 L579.06,463.54 L579.39,463.57 L579.71,463.59 L580.04,463.62 L580.36,463.64 L580.68,463.67 L581.01,463.69 L581.33,463.72 L581.66,463.74 L581.98,463.77 L582.3,463.79 L582.63,463.82 L582.95,463.84 L583.28,463.87 L583.6,463.89 L583.92,463.92 L584.25,463.94 L584.57,463.97 L584.9,463.99 L585.22,464.02 L585.54,464.04 L585.87,464.07 L586.19,464.09 L586.52,464.12 L586.84,464.14 L587.16,464.17 L587.49,464.19 L587.81,464.22 L588.14,464.24 L588.46,464.27 L588.78,464.29 L589.11,464.32 L589.43,464.34 L589.76,464.37 L590.08,464.39 L590.4,464.42 L590.73,464.44 L591.05,464.47 L591.38,464.49 L591.7,464.52 L592.02,464.54 L592.35,464.57 L592.67,464.59 L593,464.62 L593.32,464.64 L593.64,464.67 L593.97,464.69 L594.29,464.72 L594.62,464.74 L594.94,464.77 L595.26,464.79 L595.59,464.82 L595.91,464.84 L596.24,464.87 L596.56,464.89 L596.88,464.92 L597.21,464.94 L597.53,464.97 L597.86,464.99 L598.18,465.02 L598.5,465.04 L598.83,465.07 L599.15,465.09 L599.48,465.12 L599.8,465.14 L600.12,465.17 L600.45,465.19 L600.77,465.22 L601.1,465.24 L601.42,465.27 L601.74,465.29 L602.07,465.32 L602.39,465.34 L602.72,465.37 L603.04,465.39 L603.36,465.42 L603.69,465.44 L604.01,465.47 L604.34,465.49 L604.66,465.52 L604.98,465.54 L605.31,465.57 L605.63,465.59 L605.96,465.62 L606.28,465.64 L606.6,465.67 L606.93,465.69 L607.25,465.72 L607.58,465.74 L607.9,465.77 L608.22,465.79 L608.55,465.82 L608.87,465.84 L609.2,465.87 L609.52,465.89 L609.84,465.92 L610.17,465.94 L610.49,465.97 L610.82,465.99 L611.14,466.02 L611.46,466.04 L611.79,466.07 L612.11,466.09 L612.44,466.12 L612.76,466.14 L613.08,466.17 L613.41,466.19 L613.73,466.22 L614.06,466.24 L614.38,466.27 L614.7,466.29 L615.03,466.32 L615.35,466.34 L615.68,466.37 L616,466.39 L616.32,466.42 L616.65,466.44 L616.97,466.47 L617.3,466.49 L617.62,466.52 L617.94,466.54 L618.27,466.57 L618.59,466.59 L618.92,466.62 L619.24,466.64 L619.56,466.67 L619.89,466.69 L620.21,466.72 L620.54,466.75 L620.86,466.77 L621.18,466.8 L621.51,466.82 L621.83,466.85 L622.16,466.87 L622.48,466.9 L622.8,466.92 L623.13,466.95 L623.45,466.97 L623.78,467 L624.1,467.02 L624.42,467.05 L624.75,467.07 L625.07,467.1 L625.4,467.12 L625.72,467.15 L626.04,467.17 L626.37,467.2 L626.69,467.22 L627.02,467.25 L627.34,467.27 L627.66,467.3 L627.99,467.32 L628.31,467.35 L628.64,467.37 L628.96,467.4" fill="none" stroke="#66c046" stroke-width="4.4" stroke-linejoin="round" />
<g fill="#66c046"><rect x="436" y="425.19" width="3.6" height="3.6"/><rect x="436.65" y="425.57" width="3.6" height="3.6"/><rect x="437.3" y="429.03" width="3.6" height="3.6"/><rect x="437.94" y="431.73" width="3.6" height="3.6"/><rect x="438.59" y="435.26" width="3.6" height="3.6"/><rect x="439.24" y="436.64" width="3.6" height="3.6"/><rect x="439.89" y="436.9" width="3.6" height="3.6"/><rect x="440.54" y="440.03" width="3.6" height="3.6"/><rect x="441.18" y="440.93" width="3.6" height="3.6"/><rect x="441.83" y="443.74" width="3.6" height="3.6"/><rect x="442.48" y="444.9" width="3.6" height="3.6"/><rect x="443.13" y="446.39" width="3.6" height="3.6"/><rect x="443.78" y="450.21" width="3.6" height="3.6"/><rect x="444.42" y="447.17" width="3.6" height="3.6"/><rect x="445.07" y="448.39" width="3.6" height="3.6"/><rect x="445.72" y="448.96" width="3.6" height="3.6"/><rect x="446.37" y="452.78" width="3.6" height="3.6"/><rect x="447.02" y="453.23" width="3.6" height="3.6"/><rect x="447.66" y="452.23" width="3.6" height="3.6"/><rect x="448.31" y="451.84" width="3.6" height="3.6"/><rect x="448.96" y="450.86" width="3.6" height="3.6"/><rect x="449.61" y="451.58" width="3.6" height="3.6"/><rect x="450.26" y="450.85" width="3.6" height="3.6"/><rect x="450.9" y="452.75" width="3.6" height="3.6"/><rect x="451.55" y="451.4" width="3.6" height="3.6"/><rect x="452.2" y="451.36" width="3.6" height="3.6"/><rect x="452.85" y="453.06" width="3.6" height="3.6"/><rect x="453.5" y="449.49" width="3.6" height="3.6"/><rect x="454.14" y="451.34" width="3.6" height="3.6"/><rect x="454.79" y="450.42" width="3.6" height="3.6"/><rect x="455.44" y="453.26" width="3.6" height="3.6"/><rect x="456.09" y="453.5" width="3.6" height="3.6"/><rect x="456.74" y="452.95" width="3.6" height="3.6"/><rect x="457.38" y="452.64" width="3.6" height="3.6"/><rect x="458.03" y="451.56" width="3.6" height="3.6"/><rect x="458.68" y="452.2" width="3.6" height="3.6"/><rect x="459.33" y="453.32" width="3.6" height="3.6"/><rect x="459.98" y="454.15" width="3.6" height="3.6"/><rect x="460.62" y="453.53" width="3.6" height="3.6"/><rect x="461.27" y="450.91" width="3.6" height="3.6"/><rect x="461.92" y="454.07" width="3.6" height="3.6"/><rect x="462.57" y="452.51" width="3.6" height="3.6"/><rect x="463.22" y="452.28" width="3.6" height="3.6"/><rect x="463.86" y="455.27" width="3.6" height="3.6"/><rect x="464.51" y="452.96" width="3.6" height="3.6"/><rect x="465.16" y="451.08" width="3.6" height="3.6"/><rect x="465.81" y="456.22" width="3.6" height="3.6"/><rect x="466.46" y="453.68" width="3.6" height="3.6"/><rect x="467.1" y="453.4" width="3.6" height="3.6"/><rect x="467.75" y="454.54" width="3.6" height="3.6"/><rect x="468.4" y="452.57" width="3.6" height="3.6"/><rect x="469.05" y="453.48" width="3.6" height="3.6"/><rect x="469.7" y="455.68" width="3.6" height="3.6"/><rect x="470.34" y="452.22" width="3.6" height="3.6"/><rect x="470.99" y="452.51" width="3.6" height="3.6"/><rect x="471.64" y="452.14" width="3.6" height="3.6"/><rect x="472.29" y="451.43" width="3.6" height="3.6"/><rect x="472.94" y="453.13" width="3.6" height="3.6"/><rect x="473.58" y="453.55" width="3.6" height="3.6"/><rect x="474.23" y="455.78" width="3.6" height="3.6"/><rect x="474.88" y="452.89" width="3.6" height="3.6"/><rect x="475.53" y="454.82" width="3.6" height="3.6"/><rect x="476.18" y="454.63" width="3.6" height="3.6"/><rect x="476.82" y="455.92" width="3.6" height="3.6"/><rect x="477.47" y="455.52" width="3.6" height="3.6"/><rect x="478.12" y="454.9" width="3.6" height="3.6"/><rect x="478.77" y="452.16" width="3.6" height="3.6"/><rect x="479.42" y="457.3" width="3.6" height="3.6"/><rect x="480.06" y="456.47" width="3.6" height="3.6"/><rect x="480.71" y="453.92" width="3.6" height="3.6"/><rect x="481.36" y="452.13" width="3.6" height="3.6"/><rect x="482.01" y="453.5" width="3.6" height="3.6"/><rect x="482.66" y="457.35" width="3.6" height="3.6"/><rect x="483.3" y="458.34" width="3.6" height="3.6"/><rect x="483.95" y="453.99" width="3.6" height="3.6"/><rect x="484.6" y="455.71" width="3.6" height="3.6"/><rect x="485.25" y="456.35" width="3.6" height="3.6"/><rect x="485.9" y="453.19" width="3.6" height="3.6"/><rect x="486.54" y="453.05" width="3.6" height="3.6"/><rect x="487.19" y="454.55" width="3.6" height="3.6"/><rect x="487.84" y="454.46" width="3.6" height="3.6"/><rect x="488.49" y="454.22" width="3.6" height="3.6"/><rect x="489.14" y="452.5" width="3.6" height="3.6"/><rect x="489.78" y="454.04" width="3.6" height="3.6"/><rect x="490.43" y="454.24" width="3.6" height="3.6"/><rect x="491.08" y="454.25" width="3.6" height="3.6"/><rect x="491.73" y="457.54" width="3.6" height="3.6"/><rect x="492.38" y="453.22" width="3.6" height="3.6"/><rect x="493.02" y="453.77" width="3.6" height="3.6"/><rect x="493.67" y="454.48" width="3.6" height="3.6"/><rect x="494.32" y="458.36" width="3.6" height="3.6"/><rect x="494.97" y="456.36" width="3.6" height="3.6"/><rect x="495.62" y="454.15" width="3.6" height="3.6"/><rect x="496.26" y="458.26" width="3.6" height="3.6"/><rect x="496.91" y="455.82" width="3.6" height="3.6"/><rect x="497.56" y="454.03" width="3.6" height="3.6"/><rect x="498.21" y="457.65" width="3.6" height="3.6"/><rect x="498.86" y="453.22" width="3.6" height="3.6"/><rect x="499.5" y="454.89" width="3.6" height="3.6"/><rect x="500.15" y="456.02" width="3.6" height="3.6"/><rect x="500.8" y="455.34" width="3.6" height="3.6"/><rect x="501.45" y="454.89" width="3.6" height="3.6"/><rect x="502.1" y="455.75" width="3.6" height="3.6"/><rect x="502.74" y="454.23" width="3.6" height="3.6"/><rect x="503.39" y="457.05" width="3.6" height="3.6"/><rect x="504.04" y="456.72" width="3.6" height="3.6"/><rect x="504.69" y="454.54" width="3.6" height="3.6"/><rect x="505.34" y="456.15" width="3.6" height="3.6"/><rect x="505.98" y="457.59" width="3.6" height="3.6"/><rect x="506.63" y="454.84" width="3.6" height="3.6"/><rect x="507.28" y="454.09" width="3.6" height="3.6"/><rect x="507.93" y="457.07" width="3.6" height="3.6"/><rect x="508.58" y="458.55" width="3.6" height="3.6"/><rect x="509.22" y="456.69" width="3.6" height="3.6"/><rect x="509.87" y="456.77" width="3.6" height="3.6"/><rect x="510.52" y="457.04" width="3.6" height="3.6"/><rect x="511.17" y="454.49" width="3.6" height="3.6"/><rect x="511.82" y="458.26" width="3.6" height="3.6"/><rect x="512.46" y="454.81" width="3.6" height="3.6"/><rect x="513.11" y="458.73" width="3.6" height="3.6"/><rect x="513.76" y="458.04" width="3.6" height="3.6"/><rect x="514.41" y="455.92" width="3.6" height="3.6"/><rect x="515.06" y="455.21" width="3.6" height="3.6"/><rect x="515.7" y="455.67" width="3.6" height="3.6"/><rect x="516.35" y="456.51" width="3.6" height="3.6"/><rect x="517" y="456.87" width="3.6" height="3.6"/><rect x="517.65" y="456.91" width="3.6" height="3.6"/><rect x="518.3" y="456.31" width="3.6" height="3.6"/><rect x="518.94" y="457.51" width="3.6" height="3.6"/><rect x="519.59" y="456.86" width="3.6" height="3.6"/><rect x="520.24" y="456.46" width="3.6" height="3.6"/><rect x="520.89" y="457.39" width="3.6" height="3.6"/><rect x="521.54" y="456.27" width="3.6" height="3.6"/><rect x="522.18" y="456.62" width="3.6" height="3.6"/><rect x="522.83" y="454.46" width="3.6" height="3.6"/><rect x="523.48" y="457.09" width="3.6" height="3.6"/><rect x="524.13" y="458.29" width="3.6" height="3.6"/><rect x="524.78" y="458.26" width="3.6" height="3.6"/><rect x="525.42" y="457.76" width="3.6" height="3.6"/><rect x="526.07" y="456.37" width="3.6" height="3.6"/><rect x="526.72" y="458.36" width="3.6" height="3.6"/><rect x="527.37" y="457.3" width="3.6" height="3.6"/><rect x="528.02" y="455.13" width="3.6" height="3.6"/><rect x="528.66" y="461.92" width="3.6" height="3.6"/><rect x="529.31" y="459.76" width="3.6" height="3.6"/><rect x="529.96" y="457.72" width="3.6" height="3.6"/><rect x="530.61" y="457.53" width="3.6" height="3.6"/><rect x="531.26" y="457.82" width="3.6" height="3.6"/><rect x="531.9" y="458.9" width="3.6" height="3.6"/><rect x="532.55" y="457.29" width="3.6" height="3.6"/><rect x="533.2" y="457.91" width="3.6" height="3.6"/><rect x="533.85" y="459.19" width="3.6" height="3.6"/><rect x="534.5" y="454.72" width="3.6" height="3.6"/><rect x="535.14" y="457.95" width="3.6" height="3.6"/><rect x="535.79" y="459.39" width="3.6" height="3.6"/><rect x="536.44" y="458.74" width="3.6" height="3.6"/><rect x="537.09" y="458.99" width="3.6" height="3.6"/><rect x="537.74" y="458.79" width="3.6" height="3.6"/><rect x="538.38" y="462.92" width="3.6" height="3.6"/><rect x="539.03" y="459.54" width="3.6" height="3.6"/><rect x="539.68" y="457.3" width="3.6" height="3.6"/><rect x="540.33" y="460.68" width="3.6" height="3.6"/><rect x="540.98" y="459.04" width="3.6" height="3.6"/><rect x="541.62" y="457.53" width="3.6" height="3.6"/><rect x="542.27" y="457.73" width="3.6" height="3.6"/><rect x="542.92" y="456.81" width="3.6" height="3.6"/><rect x="543.57" y="461.75" width="3.6" height="3.6"/><rect x="544.22" y="459.73" width="3.6" height="3.6"/><rect x="544.86" y="459.76" width="3.6" height="3.6"/><rect x="545.51" y="458.34" width="3.6" height="3.6"/><rect x="546.16" y="457.67" width="3.6" height="3.6"/><rect x="546.81" y="463.5" width="3.6" height="3.6"/><rect x="547.46" y="457.77" width="3.6" height="3.6"/><rect x="548.1" y="461.71" width="3.6" height="3.6"/><rect x="548.75" y="458.49" width="3.6" height="3.6"/><rect x="549.4" y="461.88" width="3.6" height="3.6"/><rect x="550.05" y="459.37" width="3.6" height="3.6"/><rect x="550.7" y="457.86" width="3.6" height="3.6"/><rect x="551.34" y="459.97" width="3.6" height="3.6"/><rect x="551.99" y="459.5" width="3.6" height="3.6"/><rect x="552.64" y="458.62" width="3.6" height="3.6"/><rect x="553.29" y="459.67" width="3.6" height="3.6"/><rect x="553.94" y="460.08" width="3.6" height="3.6"/><rect x="554.58" y="457.64" width="3.6" height="3.6"/><rect x="555.23" y="458.44" width="3.6" height="3.6"/><rect x="555.88" y="460.54" width="3.6" height="3.6"/><rect x="556.53" y="455.94" width="3.6" height="3.6"/><rect x="557.18" y="461.95" width="3.6" height="3.6"/><rect x="557.82" y="458.84" width="3.6" height="3.6"/><rect x="558.47" y="460.7" width="3.6" height="3.6"/><rect x="559.12" y="460.14" width="3.6" height="3.6"/><rect x="559.77" y="459.31" width="3.6" height="3.6"/><rect x="560.42" y="460.1" width="3.6" height="3.6"/><rect x="561.06" y="459.51" width="3.6" height="3.6"/><rect x="561.71" y="462.88" width="3.6" height="3.6"/><rect x="562.36" y="462.9" width="3.6" height="3.6"/><rect x="563.01" y="459.7" width="3.6" height="3.6"/><rect x="563.66" y="462.17" width="3.6" height="3.6"/><rect x="564.3" y="462.31" width="3.6" height="3.6"/><rect x="564.95" y="463.04" width="3.6" height="3.6"/><rect x="565.6" y="458.9" width="3.6" height="3.6"/><rect x="566.25" y="459.75" width="3.6" height="3.6"/><rect x="566.9" y="458.69" width="3.6" height="3.6"/><rect x="567.54" y="462.43" width="3.6" height="3.6"/><rect x="568.19" y="461.04" width="3.6" height="3.6"/><rect x="568.84" y="462.84" width="3.6" height="3.6"/><rect x="569.49" y="459.97" width="3.6" height="3.6"/><rect x="570.14" y="458.76" width="3.6" height="3.6"/><rect x="570.78" y="462.61" width="3.6" height="3.6"/><rect x="571.43" y="458.9" width="3.6" height="3.6"/><rect x="572.08" y="459.83" width="3.6" height="3.6"/><rect x="572.73" y="461.66" width="3.6" height="3.6"/><rect x="573.38" y="464.46" width="3.6" height="3.6"/><rect x="574.02" y="459.34" width="3.6" height="3.6"/><rect x="574.67" y="461.69" width="3.6" height="3.6"/><rect x="575.32" y="462.52" width="3.6" height="3.6"/><rect x="575.97" y="461.03" width="3.6" height="3.6"/><rect x="576.62" y="461.06" width="3.6" height="3.6"/><rect x="577.26" y="459.45" width="3.6" height="3.6"/><rect x="577.91" y="463.36" width="3.6" height="3.6"/><rect x="578.56" y="460.1" width="3.6" height="3.6"/><rect x="579.21" y="459.61" width="3.6" height="3.6"/><rect x="579.86" y="459.72" width="3.6" height="3.6"/><rect x="580.5" y="462.27" width="3.6" height="3.6"/><rect x="581.15" y="463.18" width="3.6" height="3.6"/><rect x="581.8" y="460.53" width="3.6" height="3.6"/><rect x="582.45" y="461.97" width="3.6" height="3.6"/><rect x="583.1" y="462" width="3.6" height="3.6"/><rect x="583.74" y="460.06" width="3.6" height="3.6"/><rect x="584.39" y="462.7" width="3.6" height="3.6"/><rect x="585.04" y="465.86" width="3.6" height="3.6"/><rect x="585.69" y="462.99" width="3.6" height="3.6"/><rect x="586.34" y="465.28" width="3.6" height="3.6"/><rect x="586.98" y="461.24" width="3.6" height="3.6"/><rect x="587.63" y="462.06" width="3.6" height="3.6"/><rect x="588.28" y="463.53" width="3.6" height="3.6"/><rect x="588.93" y="462.66" width="3.6" height="3.6"/><rect x="589.58" y="461.42" width="3.6" height="3.6"/><rect x="590.22" y="462.62" width="3.6" height="3.6"/><rect x="590.87" y="460.76" width="3.6" height="3.6"/><rect x="591.52" y="462.94" width="3.6" height="3.6"/><rect x="592.17" y="461.3" width="3.6" height="3.6"/><rect x="592.82" y="460.66" width="3.6" height="3.6"/><rect x="593.46" y="460.53" width="3.6" height="3.6"/><rect x="594.11" y="464.07" width="3.6" height="3.6"/><rect x="594.76" y="461.75" width="3.6" height="3.6"/><rect x="595.41" y="466.02" width="3.6" height="3.6"/><rect x="596.06" y="464.85" width="3.6" height="3.6"/><rect x="596.7" y="466.25" width="3.6" height="3.6"/><rect x="597.35" y="461.66" width="3.6" height="3.6"/><rect x="598" y="465.23" width="3.6" height="3.6"/><rect x="598.65" y="463.41" width="3.6" height="3.6"/><rect x="599.3" y="463.74" width="3.6" height="3.6"/><rect x="599.94" y="463.54" width="3.6" height="3.6"/><rect x="600.59" y="464.45" width="3.6" height="3.6"/><rect x="601.24" y="463.24" width="3.6" height="3.6"/><rect x="601.89" y="460.9" width="3.6" height="3.6"/><rect x="602.54" y="463.63" width="3.6" height="3.6"/><rect x="603.18" y="462.93" width="3.6" height="3.6"/><rect x="603.83" y="462.26" width="3.6" height="3.6"/><rect x="604.48" y="464.15" width="3.6" height="3.6"/><rect x="605.13" y="465.82" width="3.6" height="3.6"/><rect x="605.78" y="464.79" width="3.6" height="3.6"/><rect x="606.42" y="462.35" width="3.6" height="3.6"/><rect x="607.07" y="466.57" width="3.6" height="3.6"/><rect x="607.72" y="465.01" width="3.6" height="3.6"/><rect x="608.37" y="462.6" width="3.6" height="3.6"/><rect x="609.02" y="462.98" width="3.6" height="3.6"/><rect x="609.66" y="464.23" width="3.6" height="3.6"/><rect x="610.31" y="463.06" width="3.6" height="3.6"/><rect x="610.96" y="464.09" width="3.6" height="3.6"/><rect x="611.61" y="466.2" width="3.6" height="3.6"/><rect x="612.26" y="466.84" width="3.6" height="3.6"/><rect x="612.9" y="465.47" width="3.6" height="3.6"/><rect x="613.55" y="463.13" width="3.6" height="3.6"/><rect x="614.2" y="465.46" width="3.6" height="3.6"/><rect x="614.85" y="466.03" width="3.6" height="3.6"/><rect x="615.5" y="465.88" width="3.6" height="3.6"/><rect x="616.14" y="467.09" width="3.6" height="3.6"/><rect x="616.79" y="464.97" width="3.6" height="3.6"/><rect x="617.44" y="466.65" width="3.6" height="3.6"/><rect x="618.09" y="464.34" width="3.6" height="3.6"/><rect x="618.74" y="468.56" width="3.6" height="3.6"/><rect x="619.38" y="464.49" width="3.6" height="3.6"/><rect x="620.03" y="466.03" width="3.6" height="3.6"/><rect x="620.68" y="468.07" width="3.6" height="3.6"/><rect x="621.33" y="464.04" width="3.6" height="3.6"/><rect x="621.98" y="465.62" width="3.6" height="3.6"/><rect x="622.62" y="468.66" width="3.6" height="3.6"/><rect x="623.27" y="466.64" width="3.6" height="3.6"/><rect x="623.92" y="464.9" width="3.6" height="3.6"/><rect x="624.57" y="466.1" width="3.6" height="3.6"/><rect x="625.22" y="464.25" width="3.6" height="3.6"/><rect x="625.86" y="464.35" width="3.6" height="3.6"/><rect x="626.51" y="464.52" width="3.6" height="3.6"/><rect x="627.16" y="465.1" width="3.6" height="3.6"/></g>
<path d="M437.8,424.5 L438.12,424.8 L438.45,425.33 L438.77,425.99 L439.1,426.76 L439.42,427.59 L439.74,428.48 L440.07,429.39 L440.39,430.33 L440.72,431.27 L441.04,432.2 L441.36,433.13 L441.69,434.04 L442.01,434.92 L442.34,435.78 L442.66,436.6 L442.98,437.39 L443.31,438.15 L443.63,438.86 L443.96,439.54 L444.28,440.18 L444.6,440.78 L444.93,441.34 L445.25,441.86 L445.58,442.35 L445.9,442.8 L446.22,443.22 L446.55,443.6 L446.87,443.96 L447.2,444.28 L447.52,444.58" fill="none" stroke="#1a1a1a" stroke-width="1.3" stroke-linejoin="round" />
<path d="M446.87,443.96 L447.2,444.28 L447.52,444.58 L447.84,444.85 L448.17,445.1 L448.49,445.32 L448.82,445.53 L449.14,445.71 L449.46,445.88 L449.79,446.03 L450.11,446.16 L450.44,446.29 L450.76,446.39 L451.08,446.49 L451.41,446.58 L451.73,446.66 L452.06,446.72 L452.38,446.79 L452.7,446.84 L453.03,446.89 L453.35,446.93 L453.68,446.97 L454,447 L454.32,447.03 L454.65,447.05 L454.97,447.08 L455.3,447.1 L455.62,447.11 L455.94,447.13 L456.27,447.14 L456.59,447.15 L456.92,447.16 L457.24,447.17 L457.56,447.18 L457.89,447.18 L458.21,447.19 L458.54,447.19 L458.86,447.2 L459.18,447.2 L459.51,447.2 L459.83,447.21 L460.16,447.21 L460.48,447.21 L460.8,447.21 L461.13,447.21 L461.45,447.22 L461.78,447.22 L462.1,447.22 L462.42,447.22 L462.75,447.22 L463.07,447.22 L463.4,447.22 L463.72,447.22 L464.04,447.22 L464.37,447.22 L464.69,447.22 L465.02,447.22 L465.34,447.22 L465.66,447.22 L465.99,447.22 L466.31,447.22 L466.64,447.22 L466.96,447.22 L467.28,447.22 L467.61,447.22 L467.93,447.22 L468.26,447.22 L468.58,447.22 L468.9,447.22 L469.23,447.22 L469.55,447.22 L469.88,447.22 L470.2,447.22 L470.52,447.22 L470.85,447.22 L471.17,447.22 L471.5,447.22 L471.82,447.22 L472.14,447.22 L472.47,447.22 L472.79,447.22 L473.12,447.22 L473.44,447.22 L473.76,447.22 L474.09,447.22 L474.41,447.22 L474.74,447.22 L475.06,447.22 L475.38,447.22 L475.71,447.22 L476.03,447.22 L476.36,447.22 L476.68,447.22 L477,447.22 L477.33,447.22 L477.65,447.22 L477.98,447.22 L478.3,447.22 L478.62,447.22 L478.95,447.22 L479.27,447.22 L479.6,447.22 L479.92,447.22 L480.24,447.22 L480.57,447.22 L480.89,447.22 L481.22,447.22 L481.54,447.22 L481.86,447.22 L482.19,447.22 L482.51,447.22 L482.84,447.22 L483.16,447.22 L483.48,447.22 L483.81,447.22 L484.13,447.22 L484.46,447.22 L484.78,447.22 L485.1,447.22 L485.43,447.22 L485.75,447.22 L486.08,447.22 L486.4,447.22 L486.72,447.22 L487.05,447.22 L487.37,447.22 L487.7,447.22 L488.02,447.22 L488.34,447.22 L488.67,447.22 L488.99,447.22 L489.32,447.22 L489.64,447.22 L489.96,447.22 L490.29,447.22 L490.61,447.22 L490.94,447.22 L491.26,447.22 L491.58,447.22 L491.91,447.22 L492.23,447.22 L492.56,447.22 L492.88,447.22 L493.2,447.22 L493.53,447.22 L493.85,447.22 L494.18,447.22 L494.5,447.22 L494.82,447.22 L495.15,447.22 L495.47,447.22 L495.8,447.22 L496.12,447.22 L496.44,447.22 L496.77,447.22 L497.09,447.22 L497.42,447.22 L497.74,447.22 L498.06,447.22 L498.39,447.22 L498.71,447.22 L499.04,447.22 L499.36,447.22 L499.68,447.22 L500.01,447.22 L500.33,447.22 L500.66,447.22 L500.98,447.22 L501.3,447.22 L501.63,447.22 L501.95,447.22 L502.28,447.22 L502.6,447.22 L502.92,447.22 L503.25,447.22 L503.57,447.22 L503.9,447.22 L504.22,447.22 L504.54,447.22 L504.87,447.22 L505.19,447.22 L505.52,447.22 L505.84,447.22 L506.16,447.22 L506.49,447.22 L506.81,447.22 L507.14,447.22 L507.46,447.22 L507.78,447.22 L508.11,447.22 L508.43,447.22 L508.76,447.22 L509.08,447.22 L509.4,447.22 L509.73,447.22 L510.05,447.22 L510.38,447.22 L510.7,447.22 L511.02,447.22 L511.35,447.22 L511.67,447.22 L512,447.22 L512.32,447.22 L512.64,447.22 L512.97,447.22 L513.29,447.22 L513.62,447.22 L513.94,447.22 L514.26,447.22 L514.59,447.22 L514.91,447.22 L515.24,447.22 L515.56,447.22 L515.88,447.22 L516.21,447.22 L516.53,447.22 L516.86,447.22 L517.18,447.22 L517.5,447.22 L517.83,447.22 L518.15,447.22 L518.48,447.22 L518.8,447.22 L519.12,447.22 L519.45,447.22 L519.77,447.22 L520.1,447.22 L520.42,447.22 L520.74,447.22 L521.07,447.22 L521.39,447.22 L521.72,447.22 L522.04,447.22 L522.36,447.22 L522.69,447.22 L523.01,447.22 L523.34,447.22 L523.66,447.22 L523.98,447.22 L524.31,447.22 L524.63,447.22 L524.96,447.22 L525.28,447.22 L525.6,447.22 L525.93,447.22 L526.25,447.22 L526.58,447.22 L526.9,447.22 L527.22,447.22 L527.55,447.22 L527.87,447.22 L528.2,447.22 L528.52,447.22 L528.84,447.22 L529.17,447.22 L529.49,447.22 L529.82,447.22 L530.14,447.22 L530.46,447.22 L530.79,447.22 L531.11,447.22 L531.44,447.22 L531.76,447.22 L532.08,447.22 L532.41,447.22 L532.73,447.22 L533.06,447.22 L533.38,447.22 L533.7,447.22 L534.03,447.22 L534.35,447.22 L534.68,447.22 L535,447.22 L535.32,447.22 L535.65,447.22 L535.97,447.22 L536.3,447.22 L536.62,447.22 L536.94,447.22 L537.27,447.22 L537.59,447.22 L537.92,447.22 L538.24,447.22 L538.56,447.22 L538.89,447.22 L539.21,447.22 L539.54,447.22 L539.86,447.22 L540.18,447.22 L540.51,447.22 L540.83,447.22 L541.16,447.22 L541.48,447.22 L541.8,447.22 L542.13,447.22 L542.45,447.22 L542.78,447.22 L543.1,447.22 L543.42,447.22 L543.75,447.22 L544.07,447.22 L544.4,447.22 L544.72,447.22 L545.04,447.22 L545.37,447.22 L545.69,447.22 L546.02,447.22 L546.34,447.22 L546.66,447.22 L546.99,447.22 L547.31,447.22 L547.64,447.22 L547.96,447.22 L548.28,447.22 L548.61,447.22 L548.93,447.22 L549.26,447.22 L549.58,447.22 L549.9,447.22 L550.23,447.22 L550.55,447.22 L550.88,447.22 L551.2,447.22 L551.52,447.22 L551.85,447.22 L552.17,447.22 L552.5,447.22 L552.82,447.22 L553.14,447.22 L553.47,447.22 L553.79,447.22 L554.12,447.22 L554.44,447.22 L554.76,447.22 L555.09,447.22 L555.41,447.22 L555.74,447.22 L556.06,447.22 L556.38,447.22 L556.71,447.22 L557.03,447.22 L557.36,447.22 L557.68,447.22 L558,447.22 L558.33,447.22 L558.65,447.22 L558.98,447.22 L559.3,447.22 L559.62,447.22 L559.95,447.22 L560.27,447.22 L560.6,447.22 L560.92,447.22 L561.24,447.22 L561.57,447.22 L561.89,447.22 L562.22,447.22 L562.54,447.22 L562.86,447.22 L563.19,447.22 L563.51,447.22 L563.84,447.22 L564.16,447.22 L564.48,447.22 L564.81,447.22 L565.13,447.22 L565.46,447.22 L565.78,447.22 L566.1,447.22 L566.43,447.22 L566.75,447.22 L567.08,447.22 L567.4,447.22 L567.72,447.22 L568.05,447.22 L568.37,447.22 L568.7,447.22 L569.02,447.22 L569.34,447.22 L569.67,447.22 L569.99,447.22 L570.32,447.22 L570.64,447.22 L570.96,447.22 L571.29,447.22 L571.61,447.22 L571.94,447.22 L572.26,447.22 L572.58,447.22 L572.91,447.22 L573.23,447.22 L573.56,447.22 L573.88,447.22 L574.2,447.22 L574.53,447.22 L574.85,447.22 L575.18,447.22 L575.5,447.22 L575.82,447.22 L576.15,447.22 L576.47,447.22 L576.8,447.22 L577.12,447.22 L577.44,447.22 L577.77,447.22 L578.09,447.22 L578.42,447.22 L578.74,447.22 L579.06,447.22 L579.39,447.22 L579.71,447.22 L580.04,447.22 L580.36,447.22 L580.68,447.22 L581.01,447.22 L581.33,447.22 L581.66,447.22 L581.98,447.22 L582.3,447.22 L582.63,447.22 L582.95,447.22 L583.28,447.22 L583.6,447.22 L583.92,447.22 L584.25,447.22 L584.57,447.22 L584.9,447.22 L585.22,447.22 L585.54,447.22 L585.87,447.22 L586.19,447.22 L586.52,447.22 L586.84,447.22 L587.16,447.22 L587.49,447.22 L587.81,447.22 L588.14,447.22 L588.46,447.22 L588.78,447.22 L589.11,447.22 L589.43,447.22 L589.76,447.22 L590.08,447.22 L590.4,447.22 L590.73,447.22 L591.05,447.22 L591.38,447.22 L591.7,447.22 L592.02,447.22 L592.35,447.22 L592.67,447.22 L593,447.22 L593.32,447.22 L593.64,447.22 L593.97,447.22 L594.29,447.22 L594.62,447.22 L594.94,447.22 L595.26,447.22 L595.59,447.22 L595.91,447.22 L596.24,447.22 L596.56,447.22 L596.88,447.22 L597.21,447.22 L597.53,447.22 L597.86,447.22 L598.18,447.22 L598.5,447.22 L598.83,447.22 L599.15,447.22 L599.48,447.22 L599.8,447.22 L600.12,447.22 L600.45,447.22 L600.77,447.22 L601.1,447.22 L601.42,447.22 L601.74,447.22 L602.07,447.22 L602.39,447.22 L602.72,447.22 L603.04,447.22 L603.36,447.22 L603.69,447.22 L604.01,447.22 L604.34,447.22 L604.66,447.22 L604.98,447.22 L605.31,447.22 L605.63,447.22 L605.96,447.22 L606.28,447.22 L606.6,447.22 L606.93,447.22 L607.25,447.22 L607.58,447.22 L607.9,447.22 L608.22,447.22 L608.55,447.22 L608.87,447.22 L609.2,447.22 L609.52,447.22 L609.84,447.22 L610.17,447.22 L610.49,447.22 L610.82,447.22 L611.14,447.22 L611.46,447.22 L611.79,447.22 L612.11,447.22 L612.44,447.22 L612.76,447.22 L613.08,447.22 L613.41,447.22 L613.73,447.22 L614.06,447.22 L614.38,447.22 L614.7,447.22 L615.03,447.22 L615.35,447.22 L615.68,447.22 L616,447.22 L616.32,447.22 L616.65,447.22 L616.97,447.22 L617.3,447.22 L617.62,447.22 L617.94,447.22 L618.27,447.22 L618.59,447.22 L618.92,447.22 L619.24,447.22 L619.56,447.22 L619.89,447.22 L620.21,447.22 L620.54,447.22 L620.86,447.22 L621.18,447.22 L621.51,447.22 L621.83,447.22 L622.16,447.22 L622.48,447.22 L622.8,447.22 L623.13,447.22 L623.45,447.22 L623.78,447.22 L624.1,447.22 L624.42,447.22 L624.75,447.22 L625.07,447.22 L625.4,447.22 L625.72,447.22 L626.04,447.22 L626.37,447.22 L626.69,447.22 L627.02,447.22 L627.34,447.22 L627.66,447.22 L627.99,447.22 L628.31,447.22 L628.64,447.22 L628.96,447.22" fill="none" stroke="#1a1a1a" stroke-width="2.6" stroke-linejoin="round" />
<g stroke="#1a1a1a" stroke-width="1.1"><path d="M436.32,423.03 h3.6 M438.12,421.23 v3.6"/><path d="M436.97,425.12 h3.6 M438.77,423.32 v3.6"/><path d="M437.62,427 h3.6 M439.42,425.2 v3.6"/><path d="M438.27,432.16 h3.6 M440.07,430.36 v3.6"/><path d="M438.92,430.08 h3.6 M440.72,428.28 v3.6"/><path d="M439.56,431.39 h3.6 M441.36,429.59 v3.6"/><path d="M440.21,435.32 h3.6 M442.01,433.52 v3.6"/><path d="M440.86,437.23 h3.6 M442.66,435.43 v3.6"/><path d="M441.51,435.57 h3.6 M443.31,433.77 v3.6"/><path d="M442.16,441.87 h3.6 M443.96,440.07 v3.6"/><path d="M442.8,440.16 h3.6 M444.6,438.36 v3.6"/><path d="M443.45,438.64 h3.6 M445.25,436.84 v3.6"/><path d="M444.1,444.03 h3.6 M445.9,442.23 v3.6"/><path d="M444.75,442.69 h3.6 M446.55,440.89 v3.6"/><path d="M445.4,441.78 h3.6 M447.2,439.98 v3.6"/><path d="M446.04,445.01 h3.6 M447.84,443.21 v3.6"/><path d="M446.69,444.58 h3.6 M448.49,442.78 v3.6"/><path d="M447.34,444.51 h3.6 M449.14,442.71 v3.6"/><path d="M447.99,447.23 h3.6 M449.79,445.43 v3.6"/><path d="M448.64,446.4 h3.6 M450.44,444.6 v3.6"/><path d="M449.28,446.1 h3.6 M451.08,444.3 v3.6"/><path d="M449.93,445.56 h3.6 M451.73,443.76 v3.6"/><path d="M450.58,446.83 h3.6 M452.38,445.03 v3.6"/><path d="M451.23,447.15 h3.6 M453.03,445.35 v3.6"/><path d="M451.88,448.32 h3.6 M453.68,446.52 v3.6"/><path d="M452.52,447.51 h3.6 M454.32,445.71 v3.6"/><path d="M453.17,445.89 h3.6 M454.97,444.09 v3.6"/><path d="M453.82,446.98 h3.6 M455.62,445.18 v3.6"/><path d="M454.47,448.27 h3.6 M456.27,446.47 v3.6"/><path d="M455.12,448.28 h3.6 M456.92,446.48 v3.6"/><path d="M455.76,443.64 h3.6 M457.56,441.84 v3.6"/><path d="M456.41,445.68 h3.6 M458.21,443.88 v3.6"/><path d="M457.06,446.35 h3.6 M458.86,444.55 v3.6"/><path d="M457.71,450.65 h3.6 M459.51,448.85 v3.6"/><path d="M458.36,446.38 h3.6 M460.16,444.58 v3.6"/><path d="M459,446.57 h3.6 M460.8,444.77 v3.6"/><path d="M459.65,444.98 h3.6 M461.45,443.18 v3.6"/><path d="M460.3,446.65 h3.6 M462.1,444.85 v3.6"/><path d="M460.95,447.31 h3.6 M462.75,445.51 v3.6"/><path d="M461.6,446.53 h3.6 M463.4,444.73 v3.6"/><path d="M462.24,449.8 h3.6 M464.04,448 v3.6"/><path d="M462.89,445.85 h3.6 M464.69,444.05 v3.6"/><path d="M463.54,446.79 h3.6 M465.34,444.99 v3.6"/><path d="M464.19,448.15 h3.6 M465.99,446.35 v3.6"/><path d="M464.84,445.46 h3.6 M466.64,443.66 v3.6"/><path d="M465.48,444.82 h3.6 M467.28,443.02 v3.6"/><path d="M466.13,449.08 h3.6 M467.93,447.28 v3.6"/><path d="M466.78,448.11 h3.6 M468.58,446.31 v3.6"/><path d="M467.43,446.83 h3.6 M469.23,445.03 v3.6"/><path d="M468.08,446.98 h3.6 M469.88,445.18 v3.6"/><path d="M468.72,447.75 h3.6 M470.52,445.95 v3.6"/><path d="M469.37,448.51 h3.6 M471.17,446.71 v3.6"/><path d="M470.02,444.41 h3.6 M471.82,442.61 v3.6"/><path d="M470.67,445.84 h3.6 M472.47,444.04 v3.6"/><path d="M471.32,448.81 h3.6 M473.12,447.01 v3.6"/><path d="M471.96,449.01 h3.6 M473.76,447.21 v3.6"/><path d="M472.61,444.96 h3.6 M474.41,443.16 v3.6"/><path d="M473.26,445.91 h3.6 M475.06,444.11 v3.6"/><path d="M473.91,444.8 h3.6 M475.71,443 v3.6"/><path d="M474.56,446.15 h3.6 M476.36,444.35 v3.6"/><path d="M475.2,448.38 h3.6 M477,446.58 v3.6"/><path d="M475.85,446.88 h3.6 M477.65,445.08 v3.6"/><path d="M476.5,450.09 h3.6 M478.3,448.29 v3.6"/><path d="M477.15,448.21 h3.6 M478.95,446.41 v3.6"/><path d="M477.8,447.3 h3.6 M479.6,445.5 v3.6"/><path d="M478.44,446.53 h3.6 M480.24,444.73 v3.6"/><path d="M479.09,448.19 h3.6 M480.89,446.39 v3.6"/><path d="M479.74,447.39 h3.6 M481.54,445.59 v3.6"/><path d="M480.39,446.61 h3.6 M482.19,444.81 v3.6"/><path d="M481.04,446.72 h3.6 M482.84,444.92 v3.6"/><path d="M481.68,446.37 h3.6 M483.48,444.57 v3.6"/><path d="M482.33,446.94 h3.6 M484.13,445.14 v3.6"/><path d="M482.98,447.65 h3.6 M484.78,445.85 v3.6"/><path d="M483.63,446.17 h3.6 M485.43,444.37 v3.6"/><path d="M484.28,447.16 h3.6 M486.08,445.36 v3.6"/><path d="M484.92,448.32 h3.6 M486.72,446.52 v3.6"/><path d="M485.57,448.05 h3.6 M487.37,446.25 v3.6"/><path d="M486.22,447.22 h3.6 M488.02,445.42 v3.6"/><path d="M486.87,447.37 h3.6 M488.67,445.57 v3.6"/><path d="M487.52,447.01 h3.6 M489.32,445.21 v3.6"/><path d="M488.16,447.22 h3.6 M489.96,445.42 v3.6"/><path d="M488.81,446.99 h3.6 M490.61,445.19 v3.6"/><path d="M489.46,447.4 h3.6 M491.26,445.6 v3.6"/><path d="M490.11,448.89 h3.6 M491.91,447.09 v3.6"/><path d="M490.76,446.66 h3.6 M492.56,444.86 v3.6"/><path d="M491.4,445.82 h3.6 M493.2,444.02 v3.6"/><path d="M492.05,446.64 h3.6 M493.85,444.84 v3.6"/><path d="M492.7,447.47 h3.6 M494.5,445.67 v3.6"/><path d="M493.35,446.63 h3.6 M495.15,444.83 v3.6"/><path d="M494,448.5 h3.6 M495.8,446.7 v3.6"/><path d="M494.64,449.74 h3.6 M496.44,447.94 v3.6"/><path d="M495.29,447.14 h3.6 M497.09,445.34 v3.6"/><path d="M495.94,448.46 h3.6 M497.74,446.66 v3.6"/><path d="M496.59,446.24 h3.6 M498.39,444.44 v3.6"/><path d="M497.24,448.66 h3.6 M499.04,446.86 v3.6"/><path d="M497.88,450.71 h3.6 M499.68,448.91 v3.6"/><path d="M498.53,448.6 h3.6 M500.33,446.8 v3.6"/><path d="M499.18,445.13 h3.6 M500.98,443.33 v3.6"/><path d="M499.83,447.73 h3.6 M501.63,445.93 v3.6"/><path d="M500.48,449.04 h3.6 M502.28,447.24 v3.6"/><path d="M501.12,448.24 h3.6 M502.92,446.44 v3.6"/><path d="M501.77,446.53 h3.6 M503.57,444.73 v3.6"/><path d="M502.42,446.56 h3.6 M504.22,444.76 v3.6"/><path d="M503.07,446.99 h3.6 M504.87,445.19 v3.6"/><path d="M503.72,445.25 h3.6 M505.52,443.45 v3.6"/><path d="M504.36,446.28 h3.6 M506.16,444.48 v3.6"/><path d="M505.01,447.25 h3.6 M506.81,445.45 v3.6"/><path d="M505.66,446.43 h3.6 M507.46,444.63 v3.6"/><path d="M506.31,445.03 h3.6 M508.11,443.23 v3.6"/><path d="M506.96,445.93 h3.6 M508.76,444.13 v3.6"/><path d="M507.6,445.86 h3.6 M509.4,444.06 v3.6"/><path d="M508.25,448.66 h3.6 M510.05,446.86 v3.6"/><path d="M508.9,447.42 h3.6 M510.7,445.62 v3.6"/><path d="M509.55,446.25 h3.6 M511.35,444.45 v3.6"/><path d="M510.2,447.62 h3.6 M512,445.82 v3.6"/><path d="M510.84,445.8 h3.6 M512.64,444 v3.6"/><path d="M511.49,446.43 h3.6 M513.29,444.63 v3.6"/><path d="M512.14,446.02 h3.6 M513.94,444.22 v3.6"/><path d="M512.79,447.5 h3.6 M514.59,445.7 v3.6"/><path d="M513.44,443.84 h3.6 M515.24,442.04 v3.6"/><path d="M514.08,445.58 h3.6 M515.88,443.78 v3.6"/><path d="M514.73,447.51 h3.6 M516.53,445.71 v3.6"/><path d="M515.38,447.1 h3.6 M517.18,445.3 v3.6"/><path d="M516.03,443.78 h3.6 M517.83,441.98 v3.6"/><path d="M516.68,447.68 h3.6 M518.48,445.88 v3.6"/><path d="M517.32,446.06 h3.6 M519.12,444.26 v3.6"/><path d="M517.97,445.92 h3.6 M519.77,444.12 v3.6"/><path d="M518.62,447.21 h3.6 M520.42,445.41 v3.6"/><path d="M519.27,448.77 h3.6 M521.07,446.97 v3.6"/><path d="M519.92,446.97 h3.6 M521.72,445.17 v3.6"/><path d="M520.56,446.74 h3.6 M522.36,444.94 v3.6"/><path d="M521.21,445.72 h3.6 M523.01,443.92 v3.6"/><path d="M521.86,446.18 h3.6 M523.66,444.38 v3.6"/><path d="M522.51,447.19 h3.6 M524.31,445.39 v3.6"/><path d="M523.16,446.09 h3.6 M524.96,444.29 v3.6"/><path d="M523.8,446.51 h3.6 M525.6,444.71 v3.6"/><path d="M524.45,446.95 h3.6 M526.25,445.15 v3.6"/><path d="M525.1,447.15 h3.6 M526.9,445.35 v3.6"/><path d="M525.75,447.54 h3.6 M527.55,445.74 v3.6"/><path d="M526.4,446.31 h3.6 M528.2,444.51 v3.6"/><path d="M527.04,448.62 h3.6 M528.84,446.82 v3.6"/><path d="M527.69,448.06 h3.6 M529.49,446.26 v3.6"/><path d="M528.34,447.22 h3.6 M530.14,445.42 v3.6"/><path d="M528.99,449.17 h3.6 M530.79,447.37 v3.6"/><path d="M529.64,447.8 h3.6 M531.44,446 v3.6"/><path d="M530.28,449.89 h3.6 M532.08,448.09 v3.6"/><path d="M530.93,448.13 h3.6 M532.73,446.33 v3.6"/><path d="M531.58,446.47 h3.6 M533.38,444.67 v3.6"/><path d="M532.23,446.47 h3.6 M534.03,444.67 v3.6"/><path d="M532.88,447.29 h3.6 M534.68,445.49 v3.6"/><path d="M533.52,447.53 h3.6 M535.32,445.73 v3.6"/><path d="M534.17,449.1 h3.6 M535.97,447.3 v3.6"/><path d="M534.82,444.8 h3.6 M536.62,443 v3.6"/><path d="M535.47,446.54 h3.6 M537.27,444.74 v3.6"/><path d="M536.12,445.77 h3.6 M537.92,443.97 v3.6"/><path d="M536.76,448.39 h3.6 M538.56,446.59 v3.6"/><path d="M537.41,447.47 h3.6 M539.21,445.67 v3.6"/><path d="M538.06,449.64 h3.6 M539.86,447.84 v3.6"/><path d="M538.71,446.19 h3.6 M540.51,444.39 v3.6"/><path d="M539.36,445.98 h3.6 M541.16,444.18 v3.6"/><path d="M540,449.74 h3.6 M541.8,447.94 v3.6"/><path d="M540.65,447.29 h3.6 M542.45,445.49 v3.6"/><path d="M541.3,446.38 h3.6 M543.1,444.58 v3.6"/><path d="M541.95,449.56 h3.6 M543.75,447.76 v3.6"/><path d="M542.6,449.65 h3.6 M544.4,447.85 v3.6"/><path d="M543.24,448.64 h3.6 M545.04,446.84 v3.6"/><path d="M543.89,448.06 h3.6 M545.69,446.26 v3.6"/><path d="M544.54,449.08 h3.6 M546.34,447.28 v3.6"/><path d="M545.19,447.18 h3.6 M546.99,445.38 v3.6"/><path d="M545.84,446.89 h3.6 M547.64,445.09 v3.6"/><path d="M546.48,446.38 h3.6 M548.28,444.58 v3.6"/><path d="M547.13,446.29 h3.6 M548.93,444.49 v3.6"/><path d="M547.78,445.23 h3.6 M549.58,443.43 v3.6"/><path d="M548.43,445.68 h3.6 M550.23,443.88 v3.6"/><path d="M549.08,448.96 h3.6 M550.88,447.16 v3.6"/><path d="M549.72,447.89 h3.6 M551.52,446.09 v3.6"/><path d="M550.37,448.63 h3.6 M552.17,446.83 v3.6"/><path d="M551.02,448.65 h3.6 M552.82,446.85 v3.6"/><path d="M551.67,447.33 h3.6 M553.47,445.53 v3.6"/><path d="M552.32,447.21 h3.6 M554.12,445.41 v3.6"/><path d="M552.96,446.57 h3.6 M554.76,444.77 v3.6"/><path d="M553.61,449.33 h3.6 M555.41,447.53 v3.6"/><path d="M554.26,448.86 h3.6 M556.06,447.06 v3.6"/><path d="M554.91,447.25 h3.6 M556.71,445.45 v3.6"/><path d="M555.56,447.49 h3.6 M557.36,445.69 v3.6"/><path d="M556.2,447.63 h3.6 M558,445.83 v3.6"/><path d="M556.85,447.31 h3.6 M558.65,445.51 v3.6"/><path d="M557.5,448.23 h3.6 M559.3,446.43 v3.6"/><path d="M558.15,446.29 h3.6 M559.95,444.49 v3.6"/><path d="M558.8,446.75 h3.6 M560.6,444.95 v3.6"/><path d="M559.44,447.34 h3.6 M561.24,445.54 v3.6"/><path d="M560.09,448.11 h3.6 M561.89,446.31 v3.6"/><path d="M560.74,447.45 h3.6 M562.54,445.65 v3.6"/><path d="M561.39,450.83 h3.6 M563.19,449.03 v3.6"/><path d="M562.04,448.52 h3.6 M563.84,446.72 v3.6"/><path d="M562.68,447.17 h3.6 M564.48,445.37 v3.6"/><path d="M563.33,449.22 h3.6 M565.13,447.42 v3.6"/><path d="M563.98,446.96 h3.6 M565.78,445.16 v3.6"/><path d="M564.63,447.03 h3.6 M566.43,445.23 v3.6"/><path d="M565.28,449.05 h3.6 M567.08,447.25 v3.6"/><path d="M565.92,447.55 h3.6 M567.72,445.75 v3.6"/><path d="M566.57,447.64 h3.6 M568.37,445.84 v3.6"/><path d="M567.22,446.61 h3.6 M569.02,444.81 v3.6"/><path d="M567.87,446.41 h3.6 M569.67,444.61 v3.6"/><path d="M568.52,447.27 h3.6 M570.32,445.47 v3.6"/><path d="M569.16,448.35 h3.6 M570.96,446.55 v3.6"/><path d="M569.81,447.41 h3.6 M571.61,445.61 v3.6"/><path d="M570.46,447.31 h3.6 M572.26,445.51 v3.6"/><path d="M571.11,446.25 h3.6 M572.91,444.45 v3.6"/><path d="M571.76,446.83 h3.6 M573.56,445.03 v3.6"/><path d="M572.4,448.18 h3.6 M574.2,446.38 v3.6"/><path d="M573.05,449.02 h3.6 M574.85,447.22 v3.6"/><path d="M573.7,447.72 h3.6 M575.5,445.92 v3.6"/><path d="M574.35,448.2 h3.6 M576.15,446.4 v3.6"/><path d="M575,448.7 h3.6 M576.8,446.9 v3.6"/><path d="M575.64,447.38 h3.6 M577.44,445.58 v3.6"/><path d="M576.29,447.87 h3.6 M578.09,446.07 v3.6"/><path d="M576.94,447.08 h3.6 M578.74,445.28 v3.6"/><path d="M577.59,446.53 h3.6 M579.39,444.73 v3.6"/><path d="M578.24,447.77 h3.6 M580.04,445.97 v3.6"/><path d="M578.88,444.14 h3.6 M580.68,442.34 v3.6"/><path d="M579.53,447.65 h3.6 M581.33,445.85 v3.6"/><path d="M580.18,445.76 h3.6 M581.98,443.96 v3.6"/><path d="M580.83,447.06 h3.6 M582.63,445.26 v3.6"/><path d="M581.48,445.74 h3.6 M583.28,443.94 v3.6"/><path d="M582.12,450.38 h3.6 M583.92,448.58 v3.6"/><path d="M582.77,448.22 h3.6 M584.57,446.42 v3.6"/><path d="M583.42,446.89 h3.6 M585.22,445.09 v3.6"/><path d="M584.07,446.42 h3.6 M585.87,444.62 v3.6"/><path d="M584.72,444.12 h3.6 M586.52,442.32 v3.6"/><path d="M585.36,446.79 h3.6 M587.16,444.99 v3.6"/><path d="M586.01,445.52 h3.6 M587.81,443.72 v3.6"/><path d="M586.66,446.2 h3.6 M588.46,444.4 v3.6"/><path d="M587.31,445.96 h3.6 M589.11,444.16 v3.6"/><path d="M587.96,446.54 h3.6 M589.76,444.74 v3.6"/><path d="M588.6,447.43 h3.6 M590.4,445.63 v3.6"/><path d="M589.25,446.55 h3.6 M591.05,444.75 v3.6"/><path d="M589.9,448.65 h3.6 M591.7,446.85 v3.6"/><path d="M590.55,445.65 h3.6 M592.35,443.85 v3.6"/><path d="M591.2,448.57 h3.6 M593,446.77 v3.6"/><path d="M591.84,446.89 h3.6 M593.64,445.09 v3.6"/><path d="M592.49,444.41 h3.6 M594.29,442.61 v3.6"/><path d="M593.14,447.52 h3.6 M594.94,445.72 v3.6"/><path d="M593.79,447.2 h3.6 M595.59,445.4 v3.6"/><path d="M594.44,445.68 h3.6 M596.24,443.88 v3.6"/><path d="M595.08,447.19 h3.6 M596.88,445.39 v3.6"/><path d="M595.73,448.29 h3.6 M597.53,446.49 v3.6"/><path d="M596.38,446.88 h3.6 M598.18,445.08 v3.6"/><path d="M597.03,446.45 h3.6 M598.83,444.65 v3.6"/><path d="M597.68,446.28 h3.6 M599.48,444.48 v3.6"/><path d="M598.32,448.25 h3.6 M600.12,446.45 v3.6"/><path d="M598.97,444.9 h3.6 M600.77,443.1 v3.6"/><path d="M599.62,445.01 h3.6 M601.42,443.21 v3.6"/><path d="M600.27,447.2 h3.6 M602.07,445.4 v3.6"/><path d="M600.92,446.87 h3.6 M602.72,445.07 v3.6"/><path d="M601.56,447.79 h3.6 M603.36,445.99 v3.6"/><path d="M602.21,445.34 h3.6 M604.01,443.54 v3.6"/><path d="M602.86,448.16 h3.6 M604.66,446.36 v3.6"/><path d="M603.51,446.33 h3.6 M605.31,444.53 v3.6"/><path d="M604.16,447.86 h3.6 M605.96,446.06 v3.6"/><path d="M604.8,448.14 h3.6 M606.6,446.34 v3.6"/><path d="M605.45,446.27 h3.6 M607.25,444.47 v3.6"/><path d="M606.1,445.45 h3.6 M607.9,443.65 v3.6"/><path d="M606.75,447.24 h3.6 M608.55,445.44 v3.6"/><path d="M607.4,448.12 h3.6 M609.2,446.32 v3.6"/><path d="M608.04,446.14 h3.6 M609.84,444.34 v3.6"/><path d="M608.69,447.29 h3.6 M610.49,445.49 v3.6"/><path d="M609.34,446.81 h3.6 M611.14,445.01 v3.6"/><path d="M609.99,445.2 h3.6 M611.79,443.4 v3.6"/><path d="M610.64,445.72 h3.6 M612.44,443.92 v3.6"/><path d="M611.28,447.91 h3.6 M613.08,446.11 v3.6"/><path d="M611.93,444.19 h3.6 M613.73,442.39 v3.6"/><path d="M612.58,447.22 h3.6 M614.38,445.42 v3.6"/><path d="M613.23,446.18 h3.6 M615.03,444.38 v3.6"/><path d="M613.88,448.08 h3.6 M615.68,446.28 v3.6"/><path d="M614.52,447.28 h3.6 M616.32,445.48 v3.6"/><path d="M615.17,449.54 h3.6 M616.97,447.74 v3.6"/><path d="M615.82,444.85 h3.6 M617.62,443.05 v3.6"/><path d="M616.47,445.41 h3.6 M618.27,443.61 v3.6"/><path d="M617.12,448.84 h3.6 M618.92,447.04 v3.6"/><path d="M617.76,449.22 h3.6 M619.56,447.42 v3.6"/><path d="M618.41,449.37 h3.6 M620.21,447.57 v3.6"/><path d="M619.06,445.66 h3.6 M620.86,443.86 v3.6"/><path d="M619.71,447.83 h3.6 M621.51,446.03 v3.6"/><path d="M620.36,447.3 h3.6 M622.16,445.5 v3.6"/><path d="M621,447.64 h3.6 M622.8,445.84 v3.6"/><path d="M621.65,447.38 h3.6 M623.45,445.58 v3.6"/><path d="M622.3,448.67 h3.6 M624.1,446.87 v3.6"/><path d="M622.95,447.19 h3.6 M624.75,445.39 v3.6"/><path d="M623.6,449.13 h3.6 M625.4,447.33 v3.6"/><path d="M624.24,447.32 h3.6 M626.04,445.52 v3.6"/><path d="M624.89,446.81 h3.6 M626.69,445.01 v3.6"/><path d="M625.54,446.6 h3.6 M627.34,444.8 v3.6"/><path d="M626.19,447.53 h3.6 M627.99,445.73 v3.6"/><path d="M626.84,448.42 h3.6 M628.64,446.62 v3.6"/></g>
<path d="M436.4,344.6 h2.8 M437.8,343.2 v2.8" stroke="#1a1a1a" stroke-width="0.9"/>
<rect x="436.3" y="346.5" width="3" height="3" fill="#6cc24a"/>
<circle cx="437.9" cy="419.3" r="2" fill="#e8453c"/>
</svg></body></html>
